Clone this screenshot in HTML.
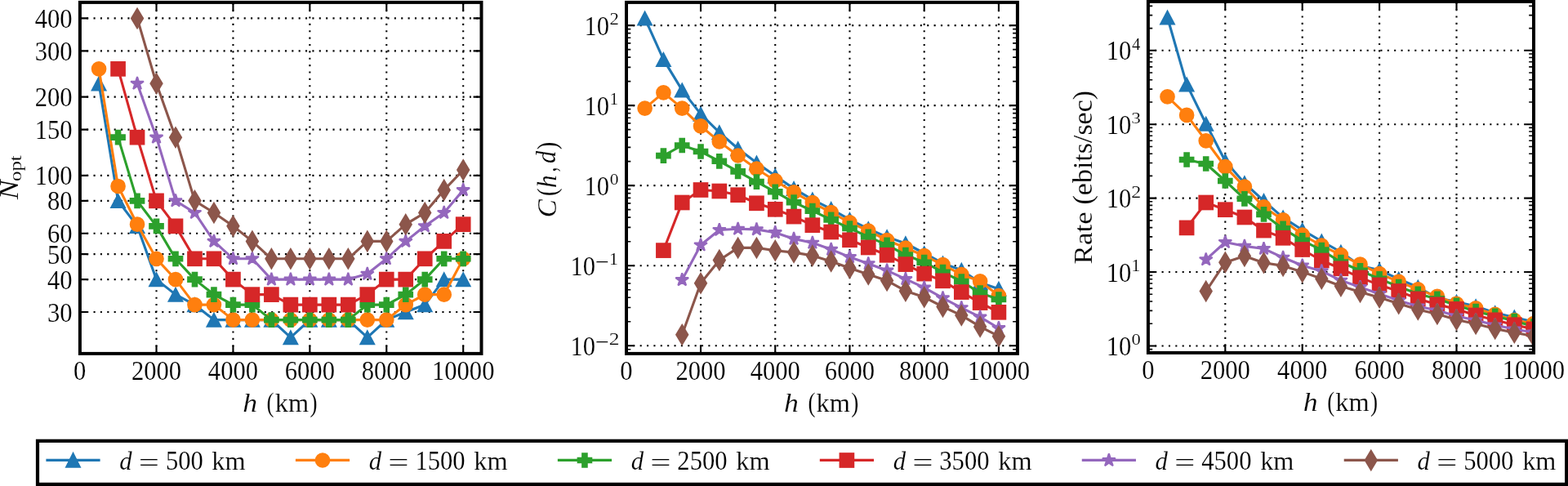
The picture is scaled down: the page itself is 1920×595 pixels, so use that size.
<!DOCTYPE html>
<html lang="en"><head><meta charset="utf-8"><title>Figure</title>
<style>html,body{margin:0;padding:0;background:#fff;overflow:hidden}svg{display:block}</style>
</head><body>
<svg width="1920" height="595" viewBox="0 0 1920 595" font-family='"Liberation Serif", "DejaVu Serif", serif' fill="#000" style="font-kerning:none">
<rect width="1920" height="595" fill="#fff"/>
<defs>
<clipPath id="c1"><rect x="97.9" y="2.9" width="491.6" height="430"/></clipPath>
<clipPath id="c2"><rect x="767" y="2.9" width="478.9" height="430"/></clipPath>
<clipPath id="c3"><rect x="1405.9" y="1.9" width="472.1" height="430"/></clipPath>
</defs>
<path d="M191.52 432.7V2.9M285.44 432.7V2.9M379.36 432.7V2.9M473.28 432.7V2.9M567.2 432.7V2.9M97.8 22.4H589.5M97.8 62.34H589.5M97.8 118.64H589.5M97.8 158.58H589.5M97.8 214.88H589.5M97.8 245.86H589.5M97.8 285.8H589.5M97.8 311.12H589.5M97.8 342.1H589.5M97.8 382.04H589.5" fill="none" stroke="#000" stroke-width="2.1" stroke-dasharray="2.1 6.27"/>
<path d="M97.6 432.9v-9.9M97.6 2.9v9.9M191.52 432.9v-9.9M191.52 2.9v9.9M285.44 432.9v-9.9M285.44 2.9v9.9M379.36 432.9v-9.9M379.36 2.9v9.9M473.28 432.9v-9.9M473.28 2.9v9.9M567.2 432.9v-9.9M567.2 2.9v9.9M97.9 22.4h9.9M589.5 22.4h-9.9M97.9 62.34h9.9M589.5 62.34h-9.9M97.9 118.64h9.9M589.5 118.64h-9.9M97.9 158.58h9.9M589.5 158.58h-9.9M97.9 214.88h9.9M589.5 214.88h-9.9M97.9 245.86h9.9M589.5 245.86h-9.9M97.9 285.8h9.9M589.5 285.8h-9.9M97.9 311.12h9.9M589.5 311.12h-9.9M97.9 342.1h9.9M589.5 342.1h-9.9M97.9 382.04h9.9M589.5 382.04h-9.9" fill="none" stroke="#000" stroke-width="2.1"/>
<g clip-path="url(#c1)">
<path d="M121.08 102.29L144.56 245.86L168.04 276.84L191.52 342.1L215 360.64L238.48 373.08L261.96 391.62L285.44 391.62L308.92 391.62L332.4 391.62L355.88 413.03L379.36 391.62L402.84 391.62L426.32 391.62L449.8 413.03L473.28 391.62L496.76 382.04L520.24 373.08L543.72 342.1L567.2 342.1" fill="none" stroke="#1f77b4" stroke-width="3.12" stroke-linejoin="round" stroke-linecap="square"/>
<polygon points="121.08,94.69 112.78,110.39 129.38,110.39" fill="#1f77b4" stroke="#1f77b4" stroke-width="2.08" stroke-linejoin="miter"/>
<polygon points="144.56,238.26 136.26,253.96 152.86,253.96" fill="#1f77b4" stroke="#1f77b4" stroke-width="2.08" stroke-linejoin="miter"/>
<polygon points="168.04,269.24 159.74,284.94 176.34,284.94" fill="#1f77b4" stroke="#1f77b4" stroke-width="2.08" stroke-linejoin="miter"/>
<polygon points="191.52,334.5 183.22,350.2 199.82,350.2" fill="#1f77b4" stroke="#1f77b4" stroke-width="2.08" stroke-linejoin="miter"/>
<polygon points="215,353.04 206.7,368.74 223.3,368.74" fill="#1f77b4" stroke="#1f77b4" stroke-width="2.08" stroke-linejoin="miter"/>
<polygon points="238.48,365.48 230.18,381.18 246.78,381.18" fill="#1f77b4" stroke="#1f77b4" stroke-width="2.08" stroke-linejoin="miter"/>
<polygon points="261.96,384.02 253.66,399.72 270.26,399.72" fill="#1f77b4" stroke="#1f77b4" stroke-width="2.08" stroke-linejoin="miter"/>
<polygon points="285.44,384.02 277.14,399.72 293.74,399.72" fill="#1f77b4" stroke="#1f77b4" stroke-width="2.08" stroke-linejoin="miter"/>
<polygon points="308.92,384.02 300.62,399.72 317.22,399.72" fill="#1f77b4" stroke="#1f77b4" stroke-width="2.08" stroke-linejoin="miter"/>
<polygon points="332.4,384.02 324.1,399.72 340.7,399.72" fill="#1f77b4" stroke="#1f77b4" stroke-width="2.08" stroke-linejoin="miter"/>
<polygon points="355.88,405.43 347.58,421.13 364.18,421.13" fill="#1f77b4" stroke="#1f77b4" stroke-width="2.08" stroke-linejoin="miter"/>
<polygon points="379.36,384.02 371.06,399.72 387.66,399.72" fill="#1f77b4" stroke="#1f77b4" stroke-width="2.08" stroke-linejoin="miter"/>
<polygon points="402.84,384.02 394.54,399.72 411.14,399.72" fill="#1f77b4" stroke="#1f77b4" stroke-width="2.08" stroke-linejoin="miter"/>
<polygon points="426.32,384.02 418.02,399.72 434.62,399.72" fill="#1f77b4" stroke="#1f77b4" stroke-width="2.08" stroke-linejoin="miter"/>
<polygon points="449.8,405.43 441.5,421.13 458.1,421.13" fill="#1f77b4" stroke="#1f77b4" stroke-width="2.08" stroke-linejoin="miter"/>
<polygon points="473.28,384.02 464.98,399.72 481.58,399.72" fill="#1f77b4" stroke="#1f77b4" stroke-width="2.08" stroke-linejoin="miter"/>
<polygon points="496.76,374.44 488.46,390.14 505.06,390.14" fill="#1f77b4" stroke="#1f77b4" stroke-width="2.08" stroke-linejoin="miter"/>
<polygon points="520.24,365.48 511.94,381.18 528.54,381.18" fill="#1f77b4" stroke="#1f77b4" stroke-width="2.08" stroke-linejoin="miter"/>
<polygon points="543.72,334.5 535.42,350.2 552.02,350.2" fill="#1f77b4" stroke="#1f77b4" stroke-width="2.08" stroke-linejoin="miter"/>
<polygon points="567.2,334.5 558.9,350.2 575.5,350.2" fill="#1f77b4" stroke="#1f77b4" stroke-width="2.08" stroke-linejoin="miter"/>
<path d="M121.08 84.36L144.56 227.97L168.04 274.69L191.52 316.79L215 342.1L238.48 373.08L261.96 373.08L285.44 391.62L308.92 391.62L332.4 391.62L355.88 391.62L379.36 391.62L402.84 391.62L426.32 391.62L449.8 391.62L473.28 391.62L496.76 373.08L520.24 360.64L543.72 360.64L567.2 316.79" fill="none" stroke="#ff7f0e" stroke-width="3.12" stroke-linejoin="round" stroke-linecap="square"/>
<circle cx="121.08" cy="84.36" r="8.3" fill="#ff7f0e" stroke="#ff7f0e" stroke-width="2.08" stroke-linejoin="miter"/>
<circle cx="144.56" cy="227.97" r="8.3" fill="#ff7f0e" stroke="#ff7f0e" stroke-width="2.08" stroke-linejoin="miter"/>
<circle cx="168.04" cy="274.69" r="8.3" fill="#ff7f0e" stroke="#ff7f0e" stroke-width="2.08" stroke-linejoin="miter"/>
<circle cx="191.52" cy="316.79" r="8.3" fill="#ff7f0e" stroke="#ff7f0e" stroke-width="2.08" stroke-linejoin="miter"/>
<circle cx="215" cy="342.1" r="8.3" fill="#ff7f0e" stroke="#ff7f0e" stroke-width="2.08" stroke-linejoin="miter"/>
<circle cx="238.48" cy="373.08" r="8.3" fill="#ff7f0e" stroke="#ff7f0e" stroke-width="2.08" stroke-linejoin="miter"/>
<circle cx="261.96" cy="373.08" r="8.3" fill="#ff7f0e" stroke="#ff7f0e" stroke-width="2.08" stroke-linejoin="miter"/>
<circle cx="285.44" cy="391.62" r="8.3" fill="#ff7f0e" stroke="#ff7f0e" stroke-width="2.08" stroke-linejoin="miter"/>
<circle cx="308.92" cy="391.62" r="8.3" fill="#ff7f0e" stroke="#ff7f0e" stroke-width="2.08" stroke-linejoin="miter"/>
<circle cx="332.4" cy="391.62" r="8.3" fill="#ff7f0e" stroke="#ff7f0e" stroke-width="2.08" stroke-linejoin="miter"/>
<circle cx="355.88" cy="391.62" r="8.3" fill="#ff7f0e" stroke="#ff7f0e" stroke-width="2.08" stroke-linejoin="miter"/>
<circle cx="379.36" cy="391.62" r="8.3" fill="#ff7f0e" stroke="#ff7f0e" stroke-width="2.08" stroke-linejoin="miter"/>
<circle cx="402.84" cy="391.62" r="8.3" fill="#ff7f0e" stroke="#ff7f0e" stroke-width="2.08" stroke-linejoin="miter"/>
<circle cx="426.32" cy="391.62" r="8.3" fill="#ff7f0e" stroke="#ff7f0e" stroke-width="2.08" stroke-linejoin="miter"/>
<circle cx="449.8" cy="391.62" r="8.3" fill="#ff7f0e" stroke="#ff7f0e" stroke-width="2.08" stroke-linejoin="miter"/>
<circle cx="473.28" cy="391.62" r="8.3" fill="#ff7f0e" stroke="#ff7f0e" stroke-width="2.08" stroke-linejoin="miter"/>
<circle cx="496.76" cy="373.08" r="8.3" fill="#ff7f0e" stroke="#ff7f0e" stroke-width="2.08" stroke-linejoin="miter"/>
<circle cx="520.24" cy="360.64" r="8.3" fill="#ff7f0e" stroke="#ff7f0e" stroke-width="2.08" stroke-linejoin="miter"/>
<circle cx="543.72" cy="360.64" r="8.3" fill="#ff7f0e" stroke="#ff7f0e" stroke-width="2.08" stroke-linejoin="miter"/>
<circle cx="567.2" cy="316.79" r="8.3" fill="#ff7f0e" stroke="#ff7f0e" stroke-width="2.08" stroke-linejoin="miter"/>
<path d="M144.56 168.16L168.04 245.86L191.52 276.84L215 316.79L238.48 342.1L261.96 360.64L285.44 373.08L308.92 373.08L332.4 391.62L355.88 391.62L379.36 391.62L402.84 391.62L426.32 391.62L449.8 373.08L473.28 373.08L496.76 360.64L520.24 342.1L543.72 316.79L567.2 316.79" fill="none" stroke="#2ca02c" stroke-width="3.12" stroke-linejoin="round" stroke-linecap="square"/>
<polygon points="141.79,159.86 147.33,159.86 147.33,165.39 152.86,165.39 152.86,170.93 147.33,170.93 147.33,176.46 141.79,176.46 141.79,170.93 136.26,170.93 136.26,165.39 141.79,165.39" fill="#2ca02c" stroke="#2ca02c" stroke-width="2.08" stroke-linejoin="miter"/>
<polygon points="165.27,237.56 170.81,237.56 170.81,243.09 176.34,243.09 176.34,248.63 170.81,248.63 170.81,254.16 165.27,254.16 165.27,248.63 159.74,248.63 159.74,243.09 165.27,243.09" fill="#2ca02c" stroke="#2ca02c" stroke-width="2.08" stroke-linejoin="miter"/>
<polygon points="188.75,268.54 194.29,268.54 194.29,274.08 199.82,274.08 199.82,279.61 194.29,279.61 194.29,285.14 188.75,285.14 188.75,279.61 183.22,279.61 183.22,274.08 188.75,274.08" fill="#2ca02c" stroke="#2ca02c" stroke-width="2.08" stroke-linejoin="miter"/>
<polygon points="212.23,308.49 217.77,308.49 217.77,314.02 223.3,314.02 223.3,319.55 217.77,319.55 217.77,325.09 212.23,325.09 212.23,319.55 206.7,319.55 206.7,314.02 212.23,314.02" fill="#2ca02c" stroke="#2ca02c" stroke-width="2.08" stroke-linejoin="miter"/>
<polygon points="235.71,333.8 241.25,333.8 241.25,339.33 246.78,339.33 246.78,344.87 241.25,344.87 241.25,350.4 235.71,350.4 235.71,344.87 230.18,344.87 230.18,339.33 235.71,339.33" fill="#2ca02c" stroke="#2ca02c" stroke-width="2.08" stroke-linejoin="miter"/>
<polygon points="259.19,352.34 264.73,352.34 264.73,357.87 270.26,357.87 270.26,363.41 264.73,363.41 264.73,368.94 259.19,368.94 259.19,363.41 253.66,363.41 253.66,357.87 259.19,357.87" fill="#2ca02c" stroke="#2ca02c" stroke-width="2.08" stroke-linejoin="miter"/>
<polygon points="282.67,364.78 288.21,364.78 288.21,370.32 293.74,370.32 293.74,375.85 288.21,375.85 288.21,381.38 282.67,381.38 282.67,375.85 277.14,375.85 277.14,370.32 282.67,370.32" fill="#2ca02c" stroke="#2ca02c" stroke-width="2.08" stroke-linejoin="miter"/>
<polygon points="306.15,364.78 311.69,364.78 311.69,370.32 317.22,370.32 317.22,375.85 311.69,375.85 311.69,381.38 306.15,381.38 306.15,375.85 300.62,375.85 300.62,370.32 306.15,370.32" fill="#2ca02c" stroke="#2ca02c" stroke-width="2.08" stroke-linejoin="miter"/>
<polygon points="329.63,383.32 335.17,383.32 335.17,388.86 340.7,388.86 340.7,394.39 335.17,394.39 335.17,399.92 329.63,399.92 329.63,394.39 324.1,394.39 324.1,388.86 329.63,388.86" fill="#2ca02c" stroke="#2ca02c" stroke-width="2.08" stroke-linejoin="miter"/>
<polygon points="353.11,383.32 358.65,383.32 358.65,388.86 364.18,388.86 364.18,394.39 358.65,394.39 358.65,399.92 353.11,399.92 353.11,394.39 347.58,394.39 347.58,388.86 353.11,388.86" fill="#2ca02c" stroke="#2ca02c" stroke-width="2.08" stroke-linejoin="miter"/>
<polygon points="376.59,383.32 382.13,383.32 382.13,388.86 387.66,388.86 387.66,394.39 382.13,394.39 382.13,399.92 376.59,399.92 376.59,394.39 371.06,394.39 371.06,388.86 376.59,388.86" fill="#2ca02c" stroke="#2ca02c" stroke-width="2.08" stroke-linejoin="miter"/>
<polygon points="400.07,383.32 405.61,383.32 405.61,388.86 411.14,388.86 411.14,394.39 405.61,394.39 405.61,399.92 400.07,399.92 400.07,394.39 394.54,394.39 394.54,388.86 400.07,388.86" fill="#2ca02c" stroke="#2ca02c" stroke-width="2.08" stroke-linejoin="miter"/>
<polygon points="423.55,383.32 429.09,383.32 429.09,388.86 434.62,388.86 434.62,394.39 429.09,394.39 429.09,399.92 423.55,399.92 423.55,394.39 418.02,394.39 418.02,388.86 423.55,388.86" fill="#2ca02c" stroke="#2ca02c" stroke-width="2.08" stroke-linejoin="miter"/>
<polygon points="447.03,364.78 452.57,364.78 452.57,370.32 458.1,370.32 458.1,375.85 452.57,375.85 452.57,381.38 447.03,381.38 447.03,375.85 441.5,375.85 441.5,370.32 447.03,370.32" fill="#2ca02c" stroke="#2ca02c" stroke-width="2.08" stroke-linejoin="miter"/>
<polygon points="470.51,364.78 476.05,364.78 476.05,370.32 481.58,370.32 481.58,375.85 476.05,375.85 476.05,381.38 470.51,381.38 470.51,375.85 464.98,375.85 464.98,370.32 470.51,370.32" fill="#2ca02c" stroke="#2ca02c" stroke-width="2.08" stroke-linejoin="miter"/>
<polygon points="493.99,352.34 499.53,352.34 499.53,357.87 505.06,357.87 505.06,363.41 499.53,363.41 499.53,368.94 493.99,368.94 493.99,363.41 488.46,363.41 488.46,357.87 493.99,357.87" fill="#2ca02c" stroke="#2ca02c" stroke-width="2.08" stroke-linejoin="miter"/>
<polygon points="517.47,333.8 523.01,333.8 523.01,339.33 528.54,339.33 528.54,344.87 523.01,344.87 523.01,350.4 517.47,350.4 517.47,344.87 511.94,344.87 511.94,339.33 517.47,339.33" fill="#2ca02c" stroke="#2ca02c" stroke-width="2.08" stroke-linejoin="miter"/>
<polygon points="540.95,308.49 546.49,308.49 546.49,314.02 552.02,314.02 552.02,319.55 546.49,319.55 546.49,325.09 540.95,325.09 540.95,319.55 535.42,319.55 535.42,314.02 540.95,314.02" fill="#2ca02c" stroke="#2ca02c" stroke-width="2.08" stroke-linejoin="miter"/>
<polygon points="564.43,308.49 569.97,308.49 569.97,314.02 575.5,314.02 575.5,319.55 569.97,319.55 569.97,325.09 564.43,325.09 564.43,319.55 558.9,319.55 558.9,314.02 564.43,314.02" fill="#2ca02c" stroke="#2ca02c" stroke-width="2.08" stroke-linejoin="miter"/>
<path d="M144.56 84.36L168.04 168.16L191.52 245.86L215 276.84L238.48 316.79L261.96 316.79L285.44 342.1L308.92 360.64L332.4 360.64L355.88 373.08L379.36 373.08L402.84 373.08L426.32 373.08L449.8 360.64L473.28 342.1L496.76 342.1L520.24 316.79L543.72 295.38L567.2 274.69" fill="none" stroke="#d62728" stroke-width="3.12" stroke-linejoin="round" stroke-linecap="square"/>
<rect x="136.26" y="76.06" width="16.6" height="16.6" fill="#d62728" stroke="#d62728" stroke-width="2.08" stroke-linejoin="miter"/>
<rect x="159.74" y="159.86" width="16.6" height="16.6" fill="#d62728" stroke="#d62728" stroke-width="2.08" stroke-linejoin="miter"/>
<rect x="183.22" y="237.56" width="16.6" height="16.6" fill="#d62728" stroke="#d62728" stroke-width="2.08" stroke-linejoin="miter"/>
<rect x="206.7" y="268.54" width="16.6" height="16.6" fill="#d62728" stroke="#d62728" stroke-width="2.08" stroke-linejoin="miter"/>
<rect x="230.18" y="308.49" width="16.6" height="16.6" fill="#d62728" stroke="#d62728" stroke-width="2.08" stroke-linejoin="miter"/>
<rect x="253.66" y="308.49" width="16.6" height="16.6" fill="#d62728" stroke="#d62728" stroke-width="2.08" stroke-linejoin="miter"/>
<rect x="277.14" y="333.8" width="16.6" height="16.6" fill="#d62728" stroke="#d62728" stroke-width="2.08" stroke-linejoin="miter"/>
<rect x="300.62" y="352.34" width="16.6" height="16.6" fill="#d62728" stroke="#d62728" stroke-width="2.08" stroke-linejoin="miter"/>
<rect x="324.1" y="352.34" width="16.6" height="16.6" fill="#d62728" stroke="#d62728" stroke-width="2.08" stroke-linejoin="miter"/>
<rect x="347.58" y="364.78" width="16.6" height="16.6" fill="#d62728" stroke="#d62728" stroke-width="2.08" stroke-linejoin="miter"/>
<rect x="371.06" y="364.78" width="16.6" height="16.6" fill="#d62728" stroke="#d62728" stroke-width="2.08" stroke-linejoin="miter"/>
<rect x="394.54" y="364.78" width="16.6" height="16.6" fill="#d62728" stroke="#d62728" stroke-width="2.08" stroke-linejoin="miter"/>
<rect x="418.02" y="364.78" width="16.6" height="16.6" fill="#d62728" stroke="#d62728" stroke-width="2.08" stroke-linejoin="miter"/>
<rect x="441.5" y="352.34" width="16.6" height="16.6" fill="#d62728" stroke="#d62728" stroke-width="2.08" stroke-linejoin="miter"/>
<rect x="464.98" y="333.8" width="16.6" height="16.6" fill="#d62728" stroke="#d62728" stroke-width="2.08" stroke-linejoin="miter"/>
<rect x="488.46" y="333.8" width="16.6" height="16.6" fill="#d62728" stroke="#d62728" stroke-width="2.08" stroke-linejoin="miter"/>
<rect x="511.94" y="308.49" width="16.6" height="16.6" fill="#d62728" stroke="#d62728" stroke-width="2.08" stroke-linejoin="miter"/>
<rect x="535.42" y="287.08" width="16.6" height="16.6" fill="#d62728" stroke="#d62728" stroke-width="2.08" stroke-linejoin="miter"/>
<rect x="558.9" y="266.39" width="16.6" height="16.6" fill="#d62728" stroke="#d62728" stroke-width="2.08" stroke-linejoin="miter"/>
<path d="M168.04 102.29L191.52 168.16L215 245.86L238.48 260.49L261.96 295.38L285.44 316.79L308.92 316.79L332.4 342.1L355.88 342.1L379.36 342.1L402.84 342.1L426.32 342.1L449.8 335.33L473.28 316.79L496.76 295.38L520.24 276.84L543.72 260.49L567.2 232.63" fill="none" stroke="#9467bd" stroke-width="3.12" stroke-linejoin="round" stroke-linecap="square"/>
<polygon points="168.04,93.99 169.9,99.72 175.93,99.72 171.06,103.27 172.92,109 168.04,105.46 163.16,109 165.02,103.27 160.15,99.72 166.18,99.72" fill="#9467bd" stroke="#9467bd" stroke-width="2.08" stroke-linejoin="bevel"/>
<polygon points="191.52,159.86 193.38,165.6 199.41,165.6 194.54,169.14 196.4,174.88 191.52,171.33 186.64,174.88 188.5,169.14 183.63,165.6 189.66,165.6" fill="#9467bd" stroke="#9467bd" stroke-width="2.08" stroke-linejoin="bevel"/>
<polygon points="215,237.56 216.86,243.3 222.89,243.3 218.02,246.84 219.88,252.58 215,249.03 210.12,252.58 211.98,246.84 207.11,243.3 213.14,243.3" fill="#9467bd" stroke="#9467bd" stroke-width="2.08" stroke-linejoin="bevel"/>
<polygon points="238.48,252.19 240.34,257.92 246.37,257.92 241.5,261.47 243.36,267.2 238.48,263.66 233.6,267.2 235.46,261.47 230.59,257.92 236.62,257.92" fill="#9467bd" stroke="#9467bd" stroke-width="2.08" stroke-linejoin="bevel"/>
<polygon points="261.96,287.08 263.82,292.82 269.85,292.82 264.98,296.36 266.84,302.1 261.96,298.55 257.08,302.1 258.94,296.36 254.07,292.82 260.1,292.82" fill="#9467bd" stroke="#9467bd" stroke-width="2.08" stroke-linejoin="bevel"/>
<polygon points="285.44,308.49 287.3,314.22 293.33,314.22 288.46,317.77 290.32,323.5 285.44,319.96 280.56,323.5 282.42,317.77 277.55,314.22 283.58,314.22" fill="#9467bd" stroke="#9467bd" stroke-width="2.08" stroke-linejoin="bevel"/>
<polygon points="308.92,308.49 310.78,314.22 316.81,314.22 311.94,317.77 313.8,323.5 308.92,319.96 304.04,323.5 305.9,317.77 301.03,314.22 307.06,314.22" fill="#9467bd" stroke="#9467bd" stroke-width="2.08" stroke-linejoin="bevel"/>
<polygon points="332.4,333.8 334.26,339.54 340.29,339.54 335.42,343.08 337.28,348.81 332.4,345.27 327.52,348.81 329.38,343.08 324.51,339.54 330.54,339.54" fill="#9467bd" stroke="#9467bd" stroke-width="2.08" stroke-linejoin="bevel"/>
<polygon points="355.88,333.8 357.74,339.54 363.77,339.54 358.9,343.08 360.76,348.81 355.88,345.27 351,348.81 352.86,343.08 347.99,339.54 354.02,339.54" fill="#9467bd" stroke="#9467bd" stroke-width="2.08" stroke-linejoin="bevel"/>
<polygon points="379.36,333.8 381.22,339.54 387.25,339.54 382.38,343.08 384.24,348.81 379.36,345.27 374.48,348.81 376.34,343.08 371.47,339.54 377.5,339.54" fill="#9467bd" stroke="#9467bd" stroke-width="2.08" stroke-linejoin="bevel"/>
<polygon points="402.84,333.8 404.7,339.54 410.73,339.54 405.86,343.08 407.72,348.81 402.84,345.27 397.96,348.81 399.82,343.08 394.95,339.54 400.98,339.54" fill="#9467bd" stroke="#9467bd" stroke-width="2.08" stroke-linejoin="bevel"/>
<polygon points="426.32,333.8 428.18,339.54 434.21,339.54 429.34,343.08 431.2,348.81 426.32,345.27 421.44,348.81 423.3,343.08 418.43,339.54 424.46,339.54" fill="#9467bd" stroke="#9467bd" stroke-width="2.08" stroke-linejoin="bevel"/>
<polygon points="449.8,327.03 451.66,332.76 457.69,332.76 452.82,336.31 454.68,342.04 449.8,338.5 444.92,342.04 446.78,336.31 441.91,332.76 447.94,332.76" fill="#9467bd" stroke="#9467bd" stroke-width="2.08" stroke-linejoin="bevel"/>
<polygon points="473.28,308.49 475.14,314.22 481.17,314.22 476.3,317.77 478.16,323.5 473.28,319.96 468.4,323.5 470.26,317.77 465.39,314.22 471.42,314.22" fill="#9467bd" stroke="#9467bd" stroke-width="2.08" stroke-linejoin="bevel"/>
<polygon points="496.76,287.08 498.62,292.82 504.65,292.82 499.78,296.36 501.64,302.1 496.76,298.55 491.88,302.1 493.74,296.36 488.87,292.82 494.9,292.82" fill="#9467bd" stroke="#9467bd" stroke-width="2.08" stroke-linejoin="bevel"/>
<polygon points="520.24,268.54 522.1,274.28 528.13,274.28 523.26,277.82 525.12,283.56 520.24,280.01 515.36,283.56 517.22,277.82 512.35,274.28 518.38,274.28" fill="#9467bd" stroke="#9467bd" stroke-width="2.08" stroke-linejoin="bevel"/>
<polygon points="543.72,252.19 545.58,257.92 551.61,257.92 546.74,261.47 548.6,267.2 543.72,263.66 538.84,267.2 540.7,261.47 535.83,257.92 541.86,257.92" fill="#9467bd" stroke="#9467bd" stroke-width="2.08" stroke-linejoin="bevel"/>
<polygon points="567.2,224.33 569.06,230.06 575.09,230.06 570.22,233.61 572.08,239.34 567.2,235.8 562.32,239.34 564.18,233.61 559.31,230.06 565.34,230.06" fill="#9467bd" stroke="#9467bd" stroke-width="2.08" stroke-linejoin="bevel"/>
<path d="M168.04 22.4L191.52 102.29L215 168.16L238.48 245.86L261.96 260.49L285.44 276.84L308.92 295.38L332.4 316.79L355.88 316.79L379.36 316.79L402.84 316.79L426.32 316.79L449.8 295.38L473.28 295.38L496.76 274.69L520.24 260.49L543.72 232.63L567.2 208.1" fill="none" stroke="#8c564b" stroke-width="3.12" stroke-linejoin="round" stroke-linecap="square"/>
<polygon points="168.04,10.66 175.08,22.4 168.04,34.14 161,22.4" fill="#8c564b" stroke="#8c564b" stroke-width="2.08" stroke-linejoin="miter"/>
<polygon points="191.52,90.55 198.56,102.29 191.52,114.02 184.48,102.29" fill="#8c564b" stroke="#8c564b" stroke-width="2.08" stroke-linejoin="miter"/>
<polygon points="215,156.42 222.04,168.16 215,179.9 207.96,168.16" fill="#8c564b" stroke="#8c564b" stroke-width="2.08" stroke-linejoin="miter"/>
<polygon points="238.48,234.12 245.52,245.86 238.48,257.6 231.44,245.86" fill="#8c564b" stroke="#8c564b" stroke-width="2.08" stroke-linejoin="miter"/>
<polygon points="261.96,248.75 269,260.49 261.96,272.23 254.92,260.49" fill="#8c564b" stroke="#8c564b" stroke-width="2.08" stroke-linejoin="miter"/>
<polygon points="285.44,265.1 292.48,276.84 285.44,288.58 278.4,276.84" fill="#8c564b" stroke="#8c564b" stroke-width="2.08" stroke-linejoin="miter"/>
<polygon points="308.92,283.64 315.96,295.38 308.92,307.12 301.88,295.38" fill="#8c564b" stroke="#8c564b" stroke-width="2.08" stroke-linejoin="miter"/>
<polygon points="332.4,305.05 339.44,316.79 332.4,328.52 325.36,316.79" fill="#8c564b" stroke="#8c564b" stroke-width="2.08" stroke-linejoin="miter"/>
<polygon points="355.88,305.05 362.92,316.79 355.88,328.52 348.84,316.79" fill="#8c564b" stroke="#8c564b" stroke-width="2.08" stroke-linejoin="miter"/>
<polygon points="379.36,305.05 386.4,316.79 379.36,328.52 372.32,316.79" fill="#8c564b" stroke="#8c564b" stroke-width="2.08" stroke-linejoin="miter"/>
<polygon points="402.84,305.05 409.88,316.79 402.84,328.52 395.8,316.79" fill="#8c564b" stroke="#8c564b" stroke-width="2.08" stroke-linejoin="miter"/>
<polygon points="426.32,305.05 433.36,316.79 426.32,328.52 419.28,316.79" fill="#8c564b" stroke="#8c564b" stroke-width="2.08" stroke-linejoin="miter"/>
<polygon points="449.8,283.64 456.84,295.38 449.8,307.12 442.76,295.38" fill="#8c564b" stroke="#8c564b" stroke-width="2.08" stroke-linejoin="miter"/>
<polygon points="473.28,283.64 480.32,295.38 473.28,307.12 466.24,295.38" fill="#8c564b" stroke="#8c564b" stroke-width="2.08" stroke-linejoin="miter"/>
<polygon points="496.76,262.95 503.8,274.69 496.76,286.43 489.72,274.69" fill="#8c564b" stroke="#8c564b" stroke-width="2.08" stroke-linejoin="miter"/>
<polygon points="520.24,248.75 527.28,260.49 520.24,272.23 513.2,260.49" fill="#8c564b" stroke="#8c564b" stroke-width="2.08" stroke-linejoin="miter"/>
<polygon points="543.72,220.89 550.76,232.63 543.72,244.37 536.68,232.63" fill="#8c564b" stroke="#8c564b" stroke-width="2.08" stroke-linejoin="miter"/>
<polygon points="567.2,196.37 574.24,208.1 567.2,219.84 560.16,208.1" fill="#8c564b" stroke="#8c564b" stroke-width="2.08" stroke-linejoin="miter"/>
</g>
<rect x="97.9" y="2.9" width="491.6" height="430" fill="none" stroke="#000" stroke-width="4"/>
<path d="M858.02 432.7V2.9M949.25 432.7V2.9M1040.47 432.7V2.9M1131.7 432.7V2.9M1222.92 432.7V2.9M766.9 31.1H1245.9M766.9 129.13H1245.9M766.9 227.16H1245.9M766.9 325.19H1245.9M766.9 423.22H1245.9" fill="none" stroke="#000" stroke-width="2.1" stroke-dasharray="2.1 6.27"/>
<path d="M766.8 432.9v-9.9M766.8 2.9v9.9M858.02 432.9v-9.9M858.02 2.9v9.9M949.25 432.9v-9.9M949.25 2.9v9.9M1040.47 432.9v-9.9M1040.47 2.9v9.9M1131.7 432.9v-9.9M1131.7 2.9v9.9M1222.92 432.9v-9.9M1222.92 2.9v9.9M767 31.1h9.9M1245.9 31.1h-9.9M767 129.13h9.9M1245.9 129.13h-9.9M767 227.16h9.9M1245.9 227.16h-9.9M767 325.19h9.9M1245.9 325.19h-9.9M767 423.22h9.9M1245.9 423.22h-9.9" fill="none" stroke="#000" stroke-width="2.1"/>
<path d="M767 99.62h5.3M1245.9 99.62h-5.8M767 82.36h5.3M1245.9 82.36h-5.8M767 70.11h5.3M1245.9 70.11h-5.8M767 60.61h5.3M1245.9 60.61h-5.8M767 52.85h5.3M1245.9 52.85h-5.8M767 46.29h5.3M1245.9 46.29h-5.8M767 40.6h5.3M1245.9 40.6h-5.8M767 35.59h5.3M1245.9 35.59h-5.8M767 197.65h5.3M1245.9 197.65h-5.8M767 180.39h5.3M1245.9 180.39h-5.8M767 168.14h5.3M1245.9 168.14h-5.8M767 158.64h5.3M1245.9 158.64h-5.8M767 150.88h5.3M1245.9 150.88h-5.8M767 144.32h5.3M1245.9 144.32h-5.8M767 138.63h5.3M1245.9 138.63h-5.8M767 133.62h5.3M1245.9 133.62h-5.8M767 295.68h5.3M1245.9 295.68h-5.8M767 278.42h5.3M1245.9 278.42h-5.8M767 266.17h5.3M1245.9 266.17h-5.8M767 256.67h5.3M1245.9 256.67h-5.8M767 248.91h5.3M1245.9 248.91h-5.8M767 242.35h5.3M1245.9 242.35h-5.8M767 236.66h5.3M1245.9 236.66h-5.8M767 231.65h5.3M1245.9 231.65h-5.8M767 393.71h5.3M1245.9 393.71h-5.8M767 376.45h5.3M1245.9 376.45h-5.8M767 364.2h5.3M1245.9 364.2h-5.8M767 354.7h5.3M1245.9 354.7h-5.8M767 346.94h5.3M1245.9 346.94h-5.8M767 340.38h5.3M1245.9 340.38h-5.8M767 334.69h5.3M1245.9 334.69h-5.8M767 329.68h5.3M1245.9 329.68h-5.8M767 427.71h5.3M1245.9 427.71h-5.8" fill="none" stroke="#000" stroke-width="1.6"/>
<g clip-path="url(#c2)">
<path d="M789.61 22.4L812.41 72.9L835.22 110.4L858.02 139.6L880.83 162.1L903.64 182L926.44 199.3L949.25 215.3L972.05 230.9L994.86 244.3L1017.67 255.8L1040.47 268.8L1063.28 280.1L1086.08 290.1L1108.89 298L1131.7 310L1154.5 322.4L1177.31 330.7L1200.11 346L1222.92 353.7" fill="none" stroke="#1f77b4" stroke-width="3.12" stroke-linejoin="round" stroke-linecap="square"/>
<polygon points="789.61,14.8 781.31,30.5 797.91,30.5" fill="#1f77b4" stroke="#1f77b4" stroke-width="2.08" stroke-linejoin="miter"/>
<polygon points="812.41,65.3 804.11,81 820.71,81" fill="#1f77b4" stroke="#1f77b4" stroke-width="2.08" stroke-linejoin="miter"/>
<polygon points="835.22,102.8 826.92,118.5 843.52,118.5" fill="#1f77b4" stroke="#1f77b4" stroke-width="2.08" stroke-linejoin="miter"/>
<polygon points="858.02,132 849.72,147.7 866.32,147.7" fill="#1f77b4" stroke="#1f77b4" stroke-width="2.08" stroke-linejoin="miter"/>
<polygon points="880.83,154.5 872.53,170.2 889.13,170.2" fill="#1f77b4" stroke="#1f77b4" stroke-width="2.08" stroke-linejoin="miter"/>
<polygon points="903.64,174.4 895.34,190.1 911.94,190.1" fill="#1f77b4" stroke="#1f77b4" stroke-width="2.08" stroke-linejoin="miter"/>
<polygon points="926.44,191.7 918.14,207.4 934.74,207.4" fill="#1f77b4" stroke="#1f77b4" stroke-width="2.08" stroke-linejoin="miter"/>
<polygon points="949.25,207.7 940.95,223.4 957.55,223.4" fill="#1f77b4" stroke="#1f77b4" stroke-width="2.08" stroke-linejoin="miter"/>
<polygon points="972.05,223.3 963.75,239 980.35,239" fill="#1f77b4" stroke="#1f77b4" stroke-width="2.08" stroke-linejoin="miter"/>
<polygon points="994.86,236.7 986.56,252.4 1003.16,252.4" fill="#1f77b4" stroke="#1f77b4" stroke-width="2.08" stroke-linejoin="miter"/>
<polygon points="1017.67,248.2 1009.37,263.9 1025.97,263.9" fill="#1f77b4" stroke="#1f77b4" stroke-width="2.08" stroke-linejoin="miter"/>
<polygon points="1040.47,261.2 1032.17,276.9 1048.77,276.9" fill="#1f77b4" stroke="#1f77b4" stroke-width="2.08" stroke-linejoin="miter"/>
<polygon points="1063.28,272.5 1054.98,288.2 1071.58,288.2" fill="#1f77b4" stroke="#1f77b4" stroke-width="2.08" stroke-linejoin="miter"/>
<polygon points="1086.08,282.5 1077.78,298.2 1094.38,298.2" fill="#1f77b4" stroke="#1f77b4" stroke-width="2.08" stroke-linejoin="miter"/>
<polygon points="1108.89,290.4 1100.59,306.1 1117.19,306.1" fill="#1f77b4" stroke="#1f77b4" stroke-width="2.08" stroke-linejoin="miter"/>
<polygon points="1131.7,302.4 1123.4,318.1 1140,318.1" fill="#1f77b4" stroke="#1f77b4" stroke-width="2.08" stroke-linejoin="miter"/>
<polygon points="1154.5,314.8 1146.2,330.5 1162.8,330.5" fill="#1f77b4" stroke="#1f77b4" stroke-width="2.08" stroke-linejoin="miter"/>
<polygon points="1177.31,323.1 1169.01,338.8 1185.61,338.8" fill="#1f77b4" stroke="#1f77b4" stroke-width="2.08" stroke-linejoin="miter"/>
<polygon points="1200.11,338.4 1191.81,354.1 1208.41,354.1" fill="#1f77b4" stroke="#1f77b4" stroke-width="2.08" stroke-linejoin="miter"/>
<polygon points="1222.92,346.1 1214.62,361.8 1231.22,361.8" fill="#1f77b4" stroke="#1f77b4" stroke-width="2.08" stroke-linejoin="miter"/>
<path d="M789.61 132.6L812.41 113.4L835.22 132.6L858.02 154.3L880.83 173.4L903.64 190.5L926.44 206.7L949.25 221.2L972.05 235.4L994.86 248.1L1017.67 260.2L1040.47 272.3L1063.28 282.5L1086.08 294L1108.89 303.5L1131.7 313L1154.5 324.2L1177.31 336.2L1200.11 344.3L1222.92 362" fill="none" stroke="#ff7f0e" stroke-width="3.12" stroke-linejoin="round" stroke-linecap="square"/>
<circle cx="789.61" cy="132.6" r="8.3" fill="#ff7f0e" stroke="#ff7f0e" stroke-width="2.08" stroke-linejoin="miter"/>
<circle cx="812.41" cy="113.4" r="8.3" fill="#ff7f0e" stroke="#ff7f0e" stroke-width="2.08" stroke-linejoin="miter"/>
<circle cx="835.22" cy="132.6" r="8.3" fill="#ff7f0e" stroke="#ff7f0e" stroke-width="2.08" stroke-linejoin="miter"/>
<circle cx="858.02" cy="154.3" r="8.3" fill="#ff7f0e" stroke="#ff7f0e" stroke-width="2.08" stroke-linejoin="miter"/>
<circle cx="880.83" cy="173.4" r="8.3" fill="#ff7f0e" stroke="#ff7f0e" stroke-width="2.08" stroke-linejoin="miter"/>
<circle cx="903.64" cy="190.5" r="8.3" fill="#ff7f0e" stroke="#ff7f0e" stroke-width="2.08" stroke-linejoin="miter"/>
<circle cx="926.44" cy="206.7" r="8.3" fill="#ff7f0e" stroke="#ff7f0e" stroke-width="2.08" stroke-linejoin="miter"/>
<circle cx="949.25" cy="221.2" r="8.3" fill="#ff7f0e" stroke="#ff7f0e" stroke-width="2.08" stroke-linejoin="miter"/>
<circle cx="972.05" cy="235.4" r="8.3" fill="#ff7f0e" stroke="#ff7f0e" stroke-width="2.08" stroke-linejoin="miter"/>
<circle cx="994.86" cy="248.1" r="8.3" fill="#ff7f0e" stroke="#ff7f0e" stroke-width="2.08" stroke-linejoin="miter"/>
<circle cx="1017.67" cy="260.2" r="8.3" fill="#ff7f0e" stroke="#ff7f0e" stroke-width="2.08" stroke-linejoin="miter"/>
<circle cx="1040.47" cy="272.3" r="8.3" fill="#ff7f0e" stroke="#ff7f0e" stroke-width="2.08" stroke-linejoin="miter"/>
<circle cx="1063.28" cy="282.5" r="8.3" fill="#ff7f0e" stroke="#ff7f0e" stroke-width="2.08" stroke-linejoin="miter"/>
<circle cx="1086.08" cy="294" r="8.3" fill="#ff7f0e" stroke="#ff7f0e" stroke-width="2.08" stroke-linejoin="miter"/>
<circle cx="1108.89" cy="303.5" r="8.3" fill="#ff7f0e" stroke="#ff7f0e" stroke-width="2.08" stroke-linejoin="miter"/>
<circle cx="1131.7" cy="313" r="8.3" fill="#ff7f0e" stroke="#ff7f0e" stroke-width="2.08" stroke-linejoin="miter"/>
<circle cx="1154.5" cy="324.2" r="8.3" fill="#ff7f0e" stroke="#ff7f0e" stroke-width="2.08" stroke-linejoin="miter"/>
<circle cx="1177.31" cy="336.2" r="8.3" fill="#ff7f0e" stroke="#ff7f0e" stroke-width="2.08" stroke-linejoin="miter"/>
<circle cx="1200.11" cy="344.3" r="8.3" fill="#ff7f0e" stroke="#ff7f0e" stroke-width="2.08" stroke-linejoin="miter"/>
<circle cx="1222.92" cy="362" r="8.3" fill="#ff7f0e" stroke="#ff7f0e" stroke-width="2.08" stroke-linejoin="miter"/>
<path d="M812.41 190.6L835.22 178L858.02 185.5L880.83 197.3L903.64 209.9L926.44 222.6L949.25 234.8L972.05 247.7L994.86 258.1L1017.67 268.9L1040.47 279.5L1063.28 289.9L1086.08 299.9L1108.89 312L1131.7 321.2L1154.5 333.2L1177.31 344.5L1200.11 358.6L1222.92 366.5" fill="none" stroke="#2ca02c" stroke-width="3.12" stroke-linejoin="round" stroke-linecap="square"/>
<polygon points="809.65,182.3 815.18,182.3 815.18,187.83 820.71,187.83 820.71,193.37 815.18,193.37 815.18,198.9 809.65,198.9 809.65,193.37 804.11,193.37 804.11,187.83 809.65,187.83" fill="#2ca02c" stroke="#2ca02c" stroke-width="2.08" stroke-linejoin="miter"/>
<polygon points="832.45,169.7 837.98,169.7 837.98,175.23 843.52,175.23 843.52,180.77 837.98,180.77 837.98,186.3 832.45,186.3 832.45,180.77 826.92,180.77 826.92,175.23 832.45,175.23" fill="#2ca02c" stroke="#2ca02c" stroke-width="2.08" stroke-linejoin="miter"/>
<polygon points="855.26,177.2 860.79,177.2 860.79,182.73 866.32,182.73 866.32,188.27 860.79,188.27 860.79,193.8 855.26,193.8 855.26,188.27 849.72,188.27 849.72,182.73 855.26,182.73" fill="#2ca02c" stroke="#2ca02c" stroke-width="2.08" stroke-linejoin="miter"/>
<polygon points="878.06,189 883.6,189 883.6,194.53 889.13,194.53 889.13,200.07 883.6,200.07 883.6,205.6 878.06,205.6 878.06,200.07 872.53,200.07 872.53,194.53 878.06,194.53" fill="#2ca02c" stroke="#2ca02c" stroke-width="2.08" stroke-linejoin="miter"/>
<polygon points="900.87,201.6 906.4,201.6 906.4,207.13 911.94,207.13 911.94,212.67 906.4,212.67 906.4,218.2 900.87,218.2 900.87,212.67 895.34,212.67 895.34,207.13 900.87,207.13" fill="#2ca02c" stroke="#2ca02c" stroke-width="2.08" stroke-linejoin="miter"/>
<polygon points="923.68,214.3 929.21,214.3 929.21,219.83 934.74,219.83 934.74,225.37 929.21,225.37 929.21,230.9 923.68,230.9 923.68,225.37 918.14,225.37 918.14,219.83 923.68,219.83" fill="#2ca02c" stroke="#2ca02c" stroke-width="2.08" stroke-linejoin="miter"/>
<polygon points="946.48,226.5 952.01,226.5 952.01,232.03 957.55,232.03 957.55,237.57 952.01,237.57 952.01,243.1 946.48,243.1 946.48,237.57 940.95,237.57 940.95,232.03 946.48,232.03" fill="#2ca02c" stroke="#2ca02c" stroke-width="2.08" stroke-linejoin="miter"/>
<polygon points="969.29,239.4 974.82,239.4 974.82,244.93 980.35,244.93 980.35,250.47 974.82,250.47 974.82,256 969.29,256 969.29,250.47 963.75,250.47 963.75,244.93 969.29,244.93" fill="#2ca02c" stroke="#2ca02c" stroke-width="2.08" stroke-linejoin="miter"/>
<polygon points="992.09,249.8 997.63,249.8 997.63,255.33 1003.16,255.33 1003.16,260.87 997.63,260.87 997.63,266.4 992.09,266.4 992.09,260.87 986.56,260.87 986.56,255.33 992.09,255.33" fill="#2ca02c" stroke="#2ca02c" stroke-width="2.08" stroke-linejoin="miter"/>
<polygon points="1014.9,260.6 1020.43,260.6 1020.43,266.13 1025.97,266.13 1025.97,271.67 1020.43,271.67 1020.43,277.2 1014.9,277.2 1014.9,271.67 1009.37,271.67 1009.37,266.13 1014.9,266.13" fill="#2ca02c" stroke="#2ca02c" stroke-width="2.08" stroke-linejoin="miter"/>
<polygon points="1037.71,271.2 1043.24,271.2 1043.24,276.73 1048.77,276.73 1048.77,282.27 1043.24,282.27 1043.24,287.8 1037.71,287.8 1037.71,282.27 1032.17,282.27 1032.17,276.73 1037.71,276.73" fill="#2ca02c" stroke="#2ca02c" stroke-width="2.08" stroke-linejoin="miter"/>
<polygon points="1060.51,281.6 1066.04,281.6 1066.04,287.13 1071.58,287.13 1071.58,292.67 1066.04,292.67 1066.04,298.2 1060.51,298.2 1060.51,292.67 1054.98,292.67 1054.98,287.13 1060.51,287.13" fill="#2ca02c" stroke="#2ca02c" stroke-width="2.08" stroke-linejoin="miter"/>
<polygon points="1083.32,291.6 1088.85,291.6 1088.85,297.13 1094.38,297.13 1094.38,302.67 1088.85,302.67 1088.85,308.2 1083.32,308.2 1083.32,302.67 1077.78,302.67 1077.78,297.13 1083.32,297.13" fill="#2ca02c" stroke="#2ca02c" stroke-width="2.08" stroke-linejoin="miter"/>
<polygon points="1106.12,303.7 1111.66,303.7 1111.66,309.23 1117.19,309.23 1117.19,314.77 1111.66,314.77 1111.66,320.3 1106.12,320.3 1106.12,314.77 1100.59,314.77 1100.59,309.23 1106.12,309.23" fill="#2ca02c" stroke="#2ca02c" stroke-width="2.08" stroke-linejoin="miter"/>
<polygon points="1128.93,312.9 1134.46,312.9 1134.46,318.43 1140,318.43 1140,323.97 1134.46,323.97 1134.46,329.5 1128.93,329.5 1128.93,323.97 1123.4,323.97 1123.4,318.43 1128.93,318.43" fill="#2ca02c" stroke="#2ca02c" stroke-width="2.08" stroke-linejoin="miter"/>
<polygon points="1151.74,324.9 1157.27,324.9 1157.27,330.43 1162.8,330.43 1162.8,335.97 1157.27,335.97 1157.27,341.5 1151.74,341.5 1151.74,335.97 1146.2,335.97 1146.2,330.43 1151.74,330.43" fill="#2ca02c" stroke="#2ca02c" stroke-width="2.08" stroke-linejoin="miter"/>
<polygon points="1174.54,336.2 1180.07,336.2 1180.07,341.73 1185.61,341.73 1185.61,347.27 1180.07,347.27 1180.07,352.8 1174.54,352.8 1174.54,347.27 1169.01,347.27 1169.01,341.73 1174.54,341.73" fill="#2ca02c" stroke="#2ca02c" stroke-width="2.08" stroke-linejoin="miter"/>
<polygon points="1197.35,350.3 1202.88,350.3 1202.88,355.83 1208.41,355.83 1208.41,361.37 1202.88,361.37 1202.88,366.9 1197.35,366.9 1197.35,361.37 1191.81,361.37 1191.81,355.83 1197.35,355.83" fill="#2ca02c" stroke="#2ca02c" stroke-width="2.08" stroke-linejoin="miter"/>
<polygon points="1220.15,358.2 1225.69,358.2 1225.69,363.73 1231.22,363.73 1231.22,369.27 1225.69,369.27 1225.69,374.8 1220.15,374.8 1220.15,369.27 1214.62,369.27 1214.62,363.73 1220.15,363.73" fill="#2ca02c" stroke="#2ca02c" stroke-width="2.08" stroke-linejoin="miter"/>
<path d="M812.41 306.6L835.22 248L858.02 232.5L880.83 234L903.64 238.7L926.44 248.8L949.25 256.3L972.05 265.1L994.86 275.7L1017.67 284L1040.47 293.8L1063.28 303L1086.08 312.3L1108.89 323.6L1131.7 335.1L1154.5 343.8L1177.31 357.6L1200.11 370.6L1222.92 382.3" fill="none" stroke="#d62728" stroke-width="3.12" stroke-linejoin="round" stroke-linecap="square"/>
<rect x="804.11" y="298.3" width="16.6" height="16.6" fill="#d62728" stroke="#d62728" stroke-width="2.08" stroke-linejoin="miter"/>
<rect x="826.92" y="239.7" width="16.6" height="16.6" fill="#d62728" stroke="#d62728" stroke-width="2.08" stroke-linejoin="miter"/>
<rect x="849.72" y="224.2" width="16.6" height="16.6" fill="#d62728" stroke="#d62728" stroke-width="2.08" stroke-linejoin="miter"/>
<rect x="872.53" y="225.7" width="16.6" height="16.6" fill="#d62728" stroke="#d62728" stroke-width="2.08" stroke-linejoin="miter"/>
<rect x="895.34" y="230.4" width="16.6" height="16.6" fill="#d62728" stroke="#d62728" stroke-width="2.08" stroke-linejoin="miter"/>
<rect x="918.14" y="240.5" width="16.6" height="16.6" fill="#d62728" stroke="#d62728" stroke-width="2.08" stroke-linejoin="miter"/>
<rect x="940.95" y="248" width="16.6" height="16.6" fill="#d62728" stroke="#d62728" stroke-width="2.08" stroke-linejoin="miter"/>
<rect x="963.75" y="256.8" width="16.6" height="16.6" fill="#d62728" stroke="#d62728" stroke-width="2.08" stroke-linejoin="miter"/>
<rect x="986.56" y="267.4" width="16.6" height="16.6" fill="#d62728" stroke="#d62728" stroke-width="2.08" stroke-linejoin="miter"/>
<rect x="1009.37" y="275.7" width="16.6" height="16.6" fill="#d62728" stroke="#d62728" stroke-width="2.08" stroke-linejoin="miter"/>
<rect x="1032.17" y="285.5" width="16.6" height="16.6" fill="#d62728" stroke="#d62728" stroke-width="2.08" stroke-linejoin="miter"/>
<rect x="1054.98" y="294.7" width="16.6" height="16.6" fill="#d62728" stroke="#d62728" stroke-width="2.08" stroke-linejoin="miter"/>
<rect x="1077.78" y="304" width="16.6" height="16.6" fill="#d62728" stroke="#d62728" stroke-width="2.08" stroke-linejoin="miter"/>
<rect x="1100.59" y="315.3" width="16.6" height="16.6" fill="#d62728" stroke="#d62728" stroke-width="2.08" stroke-linejoin="miter"/>
<rect x="1123.4" y="326.8" width="16.6" height="16.6" fill="#d62728" stroke="#d62728" stroke-width="2.08" stroke-linejoin="miter"/>
<rect x="1146.2" y="335.5" width="16.6" height="16.6" fill="#d62728" stroke="#d62728" stroke-width="2.08" stroke-linejoin="miter"/>
<rect x="1169.01" y="349.3" width="16.6" height="16.6" fill="#d62728" stroke="#d62728" stroke-width="2.08" stroke-linejoin="miter"/>
<rect x="1191.81" y="362.3" width="16.6" height="16.6" fill="#d62728" stroke="#d62728" stroke-width="2.08" stroke-linejoin="miter"/>
<rect x="1214.62" y="374" width="16.6" height="16.6" fill="#d62728" stroke="#d62728" stroke-width="2.08" stroke-linejoin="miter"/>
<path d="M835.22 342.7L858.02 300L880.83 281.5L903.64 280.3L926.44 280.9L949.25 284.7L972.05 292.4L994.86 297.3L1017.67 305.4L1040.47 314.7L1063.28 322.8L1086.08 331.2L1108.89 341.7L1131.7 352.2L1154.5 364.9L1177.31 376.8L1200.11 388.1L1222.92 401.7" fill="none" stroke="#9467bd" stroke-width="3.12" stroke-linejoin="round" stroke-linecap="square"/>
<polygon points="835.22,334.4 837.08,340.14 843.11,340.14 838.23,343.68 840.1,349.41 835.22,345.87 830.34,349.41 832.2,343.68 827.32,340.14 833.35,340.14" fill="#9467bd" stroke="#9467bd" stroke-width="2.08" stroke-linejoin="bevel"/>
<polygon points="858.02,291.7 859.89,297.44 865.92,297.44 861.04,300.98 862.9,306.71 858.02,303.17 853.15,306.71 855.01,300.98 850.13,297.44 856.16,297.44" fill="#9467bd" stroke="#9467bd" stroke-width="2.08" stroke-linejoin="bevel"/>
<polygon points="880.83,273.2 882.69,278.94 888.72,278.94 883.85,282.48 885.71,288.21 880.83,284.67 875.95,288.21 877.81,282.48 872.94,278.94 878.97,278.94" fill="#9467bd" stroke="#9467bd" stroke-width="2.08" stroke-linejoin="bevel"/>
<polygon points="903.64,272 905.5,277.74 911.53,277.74 906.65,281.28 908.51,287.01 903.64,283.47 898.76,287.01 900.62,281.28 895.74,277.74 901.77,277.74" fill="#9467bd" stroke="#9467bd" stroke-width="2.08" stroke-linejoin="bevel"/>
<polygon points="926.44,272.6 928.31,278.34 934.34,278.34 929.46,281.88 931.32,287.61 926.44,284.07 921.56,287.61 923.43,281.88 918.55,278.34 924.58,278.34" fill="#9467bd" stroke="#9467bd" stroke-width="2.08" stroke-linejoin="bevel"/>
<polygon points="949.25,276.4 951.11,282.14 957.14,282.14 952.26,285.68 954.13,291.41 949.25,287.87 944.37,291.41 946.23,285.68 941.35,282.14 947.38,282.14" fill="#9467bd" stroke="#9467bd" stroke-width="2.08" stroke-linejoin="bevel"/>
<polygon points="972.05,284.1 973.92,289.84 979.95,289.84 975.07,293.38 976.93,299.11 972.05,295.57 967.18,299.11 969.04,293.38 964.16,289.84 970.19,289.84" fill="#9467bd" stroke="#9467bd" stroke-width="2.08" stroke-linejoin="bevel"/>
<polygon points="994.86,289 996.72,294.74 1002.75,294.74 997.88,298.28 999.74,304.01 994.86,300.47 989.98,304.01 991.84,298.28 986.97,294.74 993,294.74" fill="#9467bd" stroke="#9467bd" stroke-width="2.08" stroke-linejoin="bevel"/>
<polygon points="1017.67,297.1 1019.53,302.84 1025.56,302.84 1020.68,306.38 1022.54,312.11 1017.67,308.57 1012.79,312.11 1014.65,306.38 1009.77,302.84 1015.8,302.84" fill="#9467bd" stroke="#9467bd" stroke-width="2.08" stroke-linejoin="bevel"/>
<polygon points="1040.47,306.4 1042.34,312.14 1048.37,312.14 1043.49,315.68 1045.35,321.41 1040.47,317.87 1035.59,321.41 1037.46,315.68 1032.58,312.14 1038.61,312.14" fill="#9467bd" stroke="#9467bd" stroke-width="2.08" stroke-linejoin="bevel"/>
<polygon points="1063.28,314.5 1065.14,320.24 1071.17,320.24 1066.29,323.78 1068.16,329.51 1063.28,325.97 1058.4,329.51 1060.26,323.78 1055.38,320.24 1061.41,320.24" fill="#9467bd" stroke="#9467bd" stroke-width="2.08" stroke-linejoin="bevel"/>
<polygon points="1086.08,322.9 1087.95,328.64 1093.98,328.64 1089.1,332.18 1090.96,337.91 1086.08,334.37 1081.21,337.91 1083.07,332.18 1078.19,328.64 1084.22,328.64" fill="#9467bd" stroke="#9467bd" stroke-width="2.08" stroke-linejoin="bevel"/>
<polygon points="1108.89,333.4 1110.75,339.14 1116.78,339.14 1111.91,342.68 1113.77,348.41 1108.89,344.87 1104.01,348.41 1105.87,342.68 1101,339.14 1107.03,339.14" fill="#9467bd" stroke="#9467bd" stroke-width="2.08" stroke-linejoin="bevel"/>
<polygon points="1131.7,343.9 1133.56,349.64 1139.59,349.64 1134.71,353.18 1136.57,358.91 1131.7,355.37 1126.82,358.91 1128.68,353.18 1123.8,349.64 1129.83,349.64" fill="#9467bd" stroke="#9467bd" stroke-width="2.08" stroke-linejoin="bevel"/>
<polygon points="1154.5,356.6 1156.37,362.34 1162.4,362.34 1157.52,365.88 1159.38,371.61 1154.5,368.07 1149.62,371.61 1151.49,365.88 1146.61,362.34 1152.64,362.34" fill="#9467bd" stroke="#9467bd" stroke-width="2.08" stroke-linejoin="bevel"/>
<polygon points="1177.31,368.5 1179.17,374.24 1185.2,374.24 1180.32,377.78 1182.19,383.51 1177.31,379.97 1172.43,383.51 1174.29,377.78 1169.41,374.24 1175.44,374.24" fill="#9467bd" stroke="#9467bd" stroke-width="2.08" stroke-linejoin="bevel"/>
<polygon points="1200.11,379.8 1201.98,385.54 1208.01,385.54 1203.13,389.08 1204.99,394.81 1200.11,391.27 1195.24,394.81 1197.1,389.08 1192.22,385.54 1198.25,385.54" fill="#9467bd" stroke="#9467bd" stroke-width="2.08" stroke-linejoin="bevel"/>
<polygon points="1222.92,393.4 1224.78,399.14 1230.81,399.14 1225.94,402.68 1227.8,408.41 1222.92,404.87 1218.04,408.41 1219.9,402.68 1215.03,399.14 1221.06,399.14" fill="#9467bd" stroke="#9467bd" stroke-width="2.08" stroke-linejoin="bevel"/>
<path d="M835.22 409.7L858.02 346.7L880.83 318.5L903.64 303.4L926.44 303.4L949.25 306.7L972.05 309.1L994.86 312.9L1017.67 320L1040.47 328.3L1063.28 336L1086.08 343.6L1108.89 356.2L1131.7 363.8L1154.5 375.5L1177.31 386.1L1200.11 399.9L1222.92 411.7" fill="none" stroke="#8c564b" stroke-width="3.12" stroke-linejoin="round" stroke-linecap="square"/>
<polygon points="835.22,397.96 842.26,409.7 835.22,421.44 828.18,409.7" fill="#8c564b" stroke="#8c564b" stroke-width="2.08" stroke-linejoin="miter"/>
<polygon points="858.02,334.96 865.07,346.7 858.02,358.44 850.98,346.7" fill="#8c564b" stroke="#8c564b" stroke-width="2.08" stroke-linejoin="miter"/>
<polygon points="880.83,306.76 887.87,318.5 880.83,330.24 873.79,318.5" fill="#8c564b" stroke="#8c564b" stroke-width="2.08" stroke-linejoin="miter"/>
<polygon points="903.64,291.66 910.68,303.4 903.64,315.14 896.59,303.4" fill="#8c564b" stroke="#8c564b" stroke-width="2.08" stroke-linejoin="miter"/>
<polygon points="926.44,291.66 933.48,303.4 926.44,315.14 919.4,303.4" fill="#8c564b" stroke="#8c564b" stroke-width="2.08" stroke-linejoin="miter"/>
<polygon points="949.25,294.96 956.29,306.7 949.25,318.44 942.21,306.7" fill="#8c564b" stroke="#8c564b" stroke-width="2.08" stroke-linejoin="miter"/>
<polygon points="972.05,297.36 979.1,309.1 972.05,320.84 965.01,309.1" fill="#8c564b" stroke="#8c564b" stroke-width="2.08" stroke-linejoin="miter"/>
<polygon points="994.86,301.16 1001.9,312.9 994.86,324.64 987.82,312.9" fill="#8c564b" stroke="#8c564b" stroke-width="2.08" stroke-linejoin="miter"/>
<polygon points="1017.67,308.26 1024.71,320 1017.67,331.74 1010.62,320" fill="#8c564b" stroke="#8c564b" stroke-width="2.08" stroke-linejoin="miter"/>
<polygon points="1040.47,316.56 1047.51,328.3 1040.47,340.04 1033.43,328.3" fill="#8c564b" stroke="#8c564b" stroke-width="2.08" stroke-linejoin="miter"/>
<polygon points="1063.28,324.26 1070.32,336 1063.28,347.74 1056.24,336" fill="#8c564b" stroke="#8c564b" stroke-width="2.08" stroke-linejoin="miter"/>
<polygon points="1086.08,331.86 1093.13,343.6 1086.08,355.34 1079.04,343.6" fill="#8c564b" stroke="#8c564b" stroke-width="2.08" stroke-linejoin="miter"/>
<polygon points="1108.89,344.46 1115.93,356.2 1108.89,367.94 1101.85,356.2" fill="#8c564b" stroke="#8c564b" stroke-width="2.08" stroke-linejoin="miter"/>
<polygon points="1131.7,352.06 1138.74,363.8 1131.7,375.54 1124.65,363.8" fill="#8c564b" stroke="#8c564b" stroke-width="2.08" stroke-linejoin="miter"/>
<polygon points="1154.5,363.76 1161.54,375.5 1154.5,387.24 1147.46,375.5" fill="#8c564b" stroke="#8c564b" stroke-width="2.08" stroke-linejoin="miter"/>
<polygon points="1177.31,374.36 1184.35,386.1 1177.31,397.84 1170.27,386.1" fill="#8c564b" stroke="#8c564b" stroke-width="2.08" stroke-linejoin="miter"/>
<polygon points="1200.11,388.16 1207.16,399.9 1200.11,411.64 1193.07,399.9" fill="#8c564b" stroke="#8c564b" stroke-width="2.08" stroke-linejoin="miter"/>
<polygon points="1222.92,399.96 1229.96,411.7 1222.92,423.44 1215.88,411.7" fill="#8c564b" stroke="#8c564b" stroke-width="2.08" stroke-linejoin="miter"/>
</g>
<rect x="767" y="2.9" width="478.9" height="430" fill="none" stroke="#000" stroke-width="4"/>
<path d="M1500.3 431.7V1.9M1594.7 431.7V1.9M1689.1 431.7V1.9M1783.5 431.7V1.9M1405.8 61.8H1878M1405.8 152.22H1878M1405.8 242.64H1878M1405.8 333.06H1878M1405.8 423.48H1878" fill="none" stroke="#000" stroke-width="2.1" stroke-dasharray="2.1 6.27"/>
<path d="M1405.9 431.9v-9.9M1405.9 1.9v9.9M1500.3 431.9v-9.9M1500.3 1.9v9.9M1594.7 431.9v-9.9M1594.7 1.9v9.9M1689.1 431.9v-9.9M1689.1 1.9v9.9M1783.5 431.9v-9.9M1783.5 1.9v9.9M1405.9 61.8h9.9M1878 61.8h-9.9M1405.9 152.22h9.9M1878 152.22h-9.9M1405.9 242.64h9.9M1878 242.64h-9.9M1405.9 333.06h9.9M1878 333.06h-9.9M1405.9 423.48h9.9M1878 423.48h-9.9" fill="none" stroke="#000" stroke-width="2.1"/>
<path d="M1405.9 34.58h5.3M1878 34.58h-5.8M1405.9 18.66h5.3M1878 18.66h-5.8M1405.9 7.36h5.3M1878 7.36h-5.8M1405.9 125h5.3M1878 125h-5.8M1405.9 109.08h5.3M1878 109.08h-5.8M1405.9 97.78h5.3M1878 97.78h-5.8M1405.9 89.02h5.3M1878 89.02h-5.8M1405.9 81.86h5.3M1878 81.86h-5.8M1405.9 75.81h5.3M1878 75.81h-5.8M1405.9 70.56h5.3M1878 70.56h-5.8M1405.9 65.94h5.3M1878 65.94h-5.8M1405.9 215.42h5.3M1878 215.42h-5.8M1405.9 199.5h5.3M1878 199.5h-5.8M1405.9 188.2h5.3M1878 188.2h-5.8M1405.9 179.44h5.3M1878 179.44h-5.8M1405.9 172.28h5.3M1878 172.28h-5.8M1405.9 166.23h5.3M1878 166.23h-5.8M1405.9 160.98h5.3M1878 160.98h-5.8M1405.9 156.36h5.3M1878 156.36h-5.8M1405.9 305.84h5.3M1878 305.84h-5.8M1405.9 289.92h5.3M1878 289.92h-5.8M1405.9 278.62h5.3M1878 278.62h-5.8M1405.9 269.86h5.3M1878 269.86h-5.8M1405.9 262.7h5.3M1878 262.7h-5.8M1405.9 256.65h5.3M1878 256.65h-5.8M1405.9 251.4h5.3M1878 251.4h-5.8M1405.9 246.78h5.3M1878 246.78h-5.8M1405.9 396.26h5.3M1878 396.26h-5.8M1405.9 380.34h5.3M1878 380.34h-5.8M1405.9 369.04h5.3M1878 369.04h-5.8M1405.9 360.28h5.3M1878 360.28h-5.8M1405.9 353.12h5.3M1878 353.12h-5.8M1405.9 347.07h5.3M1878 347.07h-5.8M1405.9 341.82h5.3M1878 341.82h-5.8M1405.9 337.2h5.3M1878 337.2h-5.8M1405.9 427.62h5.3M1878 427.62h-5.8" fill="none" stroke="#000" stroke-width="1.6"/>
<g clip-path="url(#c3)">
<path d="M1429.5 21.3L1453.1 103.4L1476.7 151.5L1500.3 197.2L1523.9 224.2L1547.5 245.9L1571.1 266.4L1594.7 281.5L1618.3 295.3L1641.9 308.5L1665.5 325.2L1689.1 330.7L1712.7 341.6L1736.3 351.5L1759.9 364.8L1783.5 369.5L1807.1 375.1L1830.7 383.1L1854.3 388.4L1877.9 394" fill="none" stroke="#1f77b4" stroke-width="3.12" stroke-linejoin="round" stroke-linecap="square"/>
<polygon points="1429.5,13.7 1421.2,29.4 1437.8,29.4" fill="#1f77b4" stroke="#1f77b4" stroke-width="2.08" stroke-linejoin="miter"/>
<polygon points="1453.1,95.8 1444.8,111.5 1461.4,111.5" fill="#1f77b4" stroke="#1f77b4" stroke-width="2.08" stroke-linejoin="miter"/>
<polygon points="1476.7,143.9 1468.4,159.6 1485,159.6" fill="#1f77b4" stroke="#1f77b4" stroke-width="2.08" stroke-linejoin="miter"/>
<polygon points="1500.3,189.6 1492,205.3 1508.6,205.3" fill="#1f77b4" stroke="#1f77b4" stroke-width="2.08" stroke-linejoin="miter"/>
<polygon points="1523.9,216.6 1515.6,232.3 1532.2,232.3" fill="#1f77b4" stroke="#1f77b4" stroke-width="2.08" stroke-linejoin="miter"/>
<polygon points="1547.5,238.3 1539.2,254 1555.8,254" fill="#1f77b4" stroke="#1f77b4" stroke-width="2.08" stroke-linejoin="miter"/>
<polygon points="1571.1,258.8 1562.8,274.5 1579.4,274.5" fill="#1f77b4" stroke="#1f77b4" stroke-width="2.08" stroke-linejoin="miter"/>
<polygon points="1594.7,273.9 1586.4,289.6 1603,289.6" fill="#1f77b4" stroke="#1f77b4" stroke-width="2.08" stroke-linejoin="miter"/>
<polygon points="1618.3,287.7 1610,303.4 1626.6,303.4" fill="#1f77b4" stroke="#1f77b4" stroke-width="2.08" stroke-linejoin="miter"/>
<polygon points="1641.9,300.9 1633.6,316.6 1650.2,316.6" fill="#1f77b4" stroke="#1f77b4" stroke-width="2.08" stroke-linejoin="miter"/>
<polygon points="1665.5,317.6 1657.2,333.3 1673.8,333.3" fill="#1f77b4" stroke="#1f77b4" stroke-width="2.08" stroke-linejoin="miter"/>
<polygon points="1689.1,323.1 1680.8,338.8 1697.4,338.8" fill="#1f77b4" stroke="#1f77b4" stroke-width="2.08" stroke-linejoin="miter"/>
<polygon points="1712.7,334 1704.4,349.7 1721,349.7" fill="#1f77b4" stroke="#1f77b4" stroke-width="2.08" stroke-linejoin="miter"/>
<polygon points="1736.3,343.9 1728,359.6 1744.6,359.6" fill="#1f77b4" stroke="#1f77b4" stroke-width="2.08" stroke-linejoin="miter"/>
<polygon points="1759.9,357.2 1751.6,372.9 1768.2,372.9" fill="#1f77b4" stroke="#1f77b4" stroke-width="2.08" stroke-linejoin="miter"/>
<polygon points="1783.5,361.9 1775.2,377.6 1791.8,377.6" fill="#1f77b4" stroke="#1f77b4" stroke-width="2.08" stroke-linejoin="miter"/>
<polygon points="1807.1,367.5 1798.8,383.2 1815.4,383.2" fill="#1f77b4" stroke="#1f77b4" stroke-width="2.08" stroke-linejoin="miter"/>
<polygon points="1830.7,375.5 1822.4,391.2 1839,391.2" fill="#1f77b4" stroke="#1f77b4" stroke-width="2.08" stroke-linejoin="miter"/>
<polygon points="1854.3,380.8 1846,396.5 1862.6,396.5" fill="#1f77b4" stroke="#1f77b4" stroke-width="2.08" stroke-linejoin="miter"/>
<polygon points="1877.9,386.4 1869.6,402.1 1886.2,402.1" fill="#1f77b4" stroke="#1f77b4" stroke-width="2.08" stroke-linejoin="miter"/>
<path d="M1429.5 118.4L1453.1 140.9L1476.7 172.3L1500.3 204.2L1523.9 228.6L1547.5 253.4L1571.1 269.3L1594.7 287.5L1618.3 300.6L1641.9 312.2L1665.5 323.7L1689.1 335L1712.7 344.9L1736.3 354.4L1759.9 362.9L1783.5 371.8L1807.1 377.4L1830.7 384.9L1854.3 392L1877.9 396.1" fill="none" stroke="#ff7f0e" stroke-width="3.12" stroke-linejoin="round" stroke-linecap="square"/>
<circle cx="1429.5" cy="118.4" r="8.3" fill="#ff7f0e" stroke="#ff7f0e" stroke-width="2.08" stroke-linejoin="miter"/>
<circle cx="1453.1" cy="140.9" r="8.3" fill="#ff7f0e" stroke="#ff7f0e" stroke-width="2.08" stroke-linejoin="miter"/>
<circle cx="1476.7" cy="172.3" r="8.3" fill="#ff7f0e" stroke="#ff7f0e" stroke-width="2.08" stroke-linejoin="miter"/>
<circle cx="1500.3" cy="204.2" r="8.3" fill="#ff7f0e" stroke="#ff7f0e" stroke-width="2.08" stroke-linejoin="miter"/>
<circle cx="1523.9" cy="228.6" r="8.3" fill="#ff7f0e" stroke="#ff7f0e" stroke-width="2.08" stroke-linejoin="miter"/>
<circle cx="1547.5" cy="253.4" r="8.3" fill="#ff7f0e" stroke="#ff7f0e" stroke-width="2.08" stroke-linejoin="miter"/>
<circle cx="1571.1" cy="269.3" r="8.3" fill="#ff7f0e" stroke="#ff7f0e" stroke-width="2.08" stroke-linejoin="miter"/>
<circle cx="1594.7" cy="287.5" r="8.3" fill="#ff7f0e" stroke="#ff7f0e" stroke-width="2.08" stroke-linejoin="miter"/>
<circle cx="1618.3" cy="300.6" r="8.3" fill="#ff7f0e" stroke="#ff7f0e" stroke-width="2.08" stroke-linejoin="miter"/>
<circle cx="1641.9" cy="312.2" r="8.3" fill="#ff7f0e" stroke="#ff7f0e" stroke-width="2.08" stroke-linejoin="miter"/>
<circle cx="1665.5" cy="323.7" r="8.3" fill="#ff7f0e" stroke="#ff7f0e" stroke-width="2.08" stroke-linejoin="miter"/>
<circle cx="1689.1" cy="335" r="8.3" fill="#ff7f0e" stroke="#ff7f0e" stroke-width="2.08" stroke-linejoin="miter"/>
<circle cx="1712.7" cy="344.9" r="8.3" fill="#ff7f0e" stroke="#ff7f0e" stroke-width="2.08" stroke-linejoin="miter"/>
<circle cx="1736.3" cy="354.4" r="8.3" fill="#ff7f0e" stroke="#ff7f0e" stroke-width="2.08" stroke-linejoin="miter"/>
<circle cx="1759.9" cy="362.9" r="8.3" fill="#ff7f0e" stroke="#ff7f0e" stroke-width="2.08" stroke-linejoin="miter"/>
<circle cx="1783.5" cy="371.8" r="8.3" fill="#ff7f0e" stroke="#ff7f0e" stroke-width="2.08" stroke-linejoin="miter"/>
<circle cx="1807.1" cy="377.4" r="8.3" fill="#ff7f0e" stroke="#ff7f0e" stroke-width="2.08" stroke-linejoin="miter"/>
<circle cx="1830.7" cy="384.9" r="8.3" fill="#ff7f0e" stroke="#ff7f0e" stroke-width="2.08" stroke-linejoin="miter"/>
<circle cx="1854.3" cy="392" r="8.3" fill="#ff7f0e" stroke="#ff7f0e" stroke-width="2.08" stroke-linejoin="miter"/>
<circle cx="1877.9" cy="396.1" r="8.3" fill="#ff7f0e" stroke="#ff7f0e" stroke-width="2.08" stroke-linejoin="miter"/>
<path d="M1453.1 195.5L1476.7 200.5L1500.3 221.5L1523.9 243.3L1547.5 262.4L1571.1 279.9L1594.7 294.4L1618.3 306.1L1641.9 321L1665.5 331.3L1689.1 341.4L1712.7 351L1736.3 359.8L1759.9 365.9L1783.5 373.8L1807.1 381.2L1830.7 386.9L1854.3 393.1L1877.9 399.5" fill="none" stroke="#2ca02c" stroke-width="3.12" stroke-linejoin="round" stroke-linecap="square"/>
<polygon points="1450.33,187.2 1455.87,187.2 1455.87,192.73 1461.4,192.73 1461.4,198.27 1455.87,198.27 1455.87,203.8 1450.33,203.8 1450.33,198.27 1444.8,198.27 1444.8,192.73 1450.33,192.73" fill="#2ca02c" stroke="#2ca02c" stroke-width="2.08" stroke-linejoin="miter"/>
<polygon points="1473.93,192.2 1479.47,192.2 1479.47,197.73 1485,197.73 1485,203.27 1479.47,203.27 1479.47,208.8 1473.93,208.8 1473.93,203.27 1468.4,203.27 1468.4,197.73 1473.93,197.73" fill="#2ca02c" stroke="#2ca02c" stroke-width="2.08" stroke-linejoin="miter"/>
<polygon points="1497.53,213.2 1503.07,213.2 1503.07,218.73 1508.6,218.73 1508.6,224.27 1503.07,224.27 1503.07,229.8 1497.53,229.8 1497.53,224.27 1492,224.27 1492,218.73 1497.53,218.73" fill="#2ca02c" stroke="#2ca02c" stroke-width="2.08" stroke-linejoin="miter"/>
<polygon points="1521.13,235 1526.67,235 1526.67,240.53 1532.2,240.53 1532.2,246.07 1526.67,246.07 1526.67,251.6 1521.13,251.6 1521.13,246.07 1515.6,246.07 1515.6,240.53 1521.13,240.53" fill="#2ca02c" stroke="#2ca02c" stroke-width="2.08" stroke-linejoin="miter"/>
<polygon points="1544.73,254.1 1550.27,254.1 1550.27,259.63 1555.8,259.63 1555.8,265.17 1550.27,265.17 1550.27,270.7 1544.73,270.7 1544.73,265.17 1539.2,265.17 1539.2,259.63 1544.73,259.63" fill="#2ca02c" stroke="#2ca02c" stroke-width="2.08" stroke-linejoin="miter"/>
<polygon points="1568.33,271.6 1573.87,271.6 1573.87,277.13 1579.4,277.13 1579.4,282.67 1573.87,282.67 1573.87,288.2 1568.33,288.2 1568.33,282.67 1562.8,282.67 1562.8,277.13 1568.33,277.13" fill="#2ca02c" stroke="#2ca02c" stroke-width="2.08" stroke-linejoin="miter"/>
<polygon points="1591.93,286.1 1597.47,286.1 1597.47,291.63 1603,291.63 1603,297.17 1597.47,297.17 1597.47,302.7 1591.93,302.7 1591.93,297.17 1586.4,297.17 1586.4,291.63 1591.93,291.63" fill="#2ca02c" stroke="#2ca02c" stroke-width="2.08" stroke-linejoin="miter"/>
<polygon points="1615.53,297.8 1621.07,297.8 1621.07,303.33 1626.6,303.33 1626.6,308.87 1621.07,308.87 1621.07,314.4 1615.53,314.4 1615.53,308.87 1610,308.87 1610,303.33 1615.53,303.33" fill="#2ca02c" stroke="#2ca02c" stroke-width="2.08" stroke-linejoin="miter"/>
<polygon points="1639.13,312.7 1644.67,312.7 1644.67,318.23 1650.2,318.23 1650.2,323.77 1644.67,323.77 1644.67,329.3 1639.13,329.3 1639.13,323.77 1633.6,323.77 1633.6,318.23 1639.13,318.23" fill="#2ca02c" stroke="#2ca02c" stroke-width="2.08" stroke-linejoin="miter"/>
<polygon points="1662.73,323 1668.27,323 1668.27,328.53 1673.8,328.53 1673.8,334.07 1668.27,334.07 1668.27,339.6 1662.73,339.6 1662.73,334.07 1657.2,334.07 1657.2,328.53 1662.73,328.53" fill="#2ca02c" stroke="#2ca02c" stroke-width="2.08" stroke-linejoin="miter"/>
<polygon points="1686.33,333.1 1691.87,333.1 1691.87,338.63 1697.4,338.63 1697.4,344.17 1691.87,344.17 1691.87,349.7 1686.33,349.7 1686.33,344.17 1680.8,344.17 1680.8,338.63 1686.33,338.63" fill="#2ca02c" stroke="#2ca02c" stroke-width="2.08" stroke-linejoin="miter"/>
<polygon points="1709.93,342.7 1715.47,342.7 1715.47,348.23 1721,348.23 1721,353.77 1715.47,353.77 1715.47,359.3 1709.93,359.3 1709.93,353.77 1704.4,353.77 1704.4,348.23 1709.93,348.23" fill="#2ca02c" stroke="#2ca02c" stroke-width="2.08" stroke-linejoin="miter"/>
<polygon points="1733.53,351.5 1739.07,351.5 1739.07,357.03 1744.6,357.03 1744.6,362.57 1739.07,362.57 1739.07,368.1 1733.53,368.1 1733.53,362.57 1728,362.57 1728,357.03 1733.53,357.03" fill="#2ca02c" stroke="#2ca02c" stroke-width="2.08" stroke-linejoin="miter"/>
<polygon points="1757.13,357.6 1762.67,357.6 1762.67,363.13 1768.2,363.13 1768.2,368.67 1762.67,368.67 1762.67,374.2 1757.13,374.2 1757.13,368.67 1751.6,368.67 1751.6,363.13 1757.13,363.13" fill="#2ca02c" stroke="#2ca02c" stroke-width="2.08" stroke-linejoin="miter"/>
<polygon points="1780.73,365.5 1786.27,365.5 1786.27,371.03 1791.8,371.03 1791.8,376.57 1786.27,376.57 1786.27,382.1 1780.73,382.1 1780.73,376.57 1775.2,376.57 1775.2,371.03 1780.73,371.03" fill="#2ca02c" stroke="#2ca02c" stroke-width="2.08" stroke-linejoin="miter"/>
<polygon points="1804.33,372.9 1809.87,372.9 1809.87,378.43 1815.4,378.43 1815.4,383.97 1809.87,383.97 1809.87,389.5 1804.33,389.5 1804.33,383.97 1798.8,383.97 1798.8,378.43 1804.33,378.43" fill="#2ca02c" stroke="#2ca02c" stroke-width="2.08" stroke-linejoin="miter"/>
<polygon points="1827.93,378.6 1833.47,378.6 1833.47,384.13 1839,384.13 1839,389.67 1833.47,389.67 1833.47,395.2 1827.93,395.2 1827.93,389.67 1822.4,389.67 1822.4,384.13 1827.93,384.13" fill="#2ca02c" stroke="#2ca02c" stroke-width="2.08" stroke-linejoin="miter"/>
<polygon points="1851.53,384.8 1857.07,384.8 1857.07,390.33 1862.6,390.33 1862.6,395.87 1857.07,395.87 1857.07,401.4 1851.53,401.4 1851.53,395.87 1846,395.87 1846,390.33 1851.53,390.33" fill="#2ca02c" stroke="#2ca02c" stroke-width="2.08" stroke-linejoin="miter"/>
<polygon points="1875.13,391.2 1880.67,391.2 1880.67,396.73 1886.2,396.73 1886.2,402.27 1880.67,402.27 1880.67,407.8 1875.13,407.8 1875.13,402.27 1869.6,402.27 1869.6,396.73 1875.13,396.73" fill="#2ca02c" stroke="#2ca02c" stroke-width="2.08" stroke-linejoin="miter"/>
<path d="M1453.1 278.9L1476.7 248L1500.3 256.7L1523.9 266L1547.5 282.1L1571.1 291.3L1594.7 305.5L1618.3 319L1641.9 328.8L1665.5 339.9L1689.1 348.9L1712.7 356.5L1736.3 365.9L1759.9 372.8L1783.5 378.4L1807.1 386L1830.7 391.8L1854.3 397.7L1877.9 402.9" fill="none" stroke="#d62728" stroke-width="3.12" stroke-linejoin="round" stroke-linecap="square"/>
<rect x="1444.8" y="270.6" width="16.6" height="16.6" fill="#d62728" stroke="#d62728" stroke-width="2.08" stroke-linejoin="miter"/>
<rect x="1468.4" y="239.7" width="16.6" height="16.6" fill="#d62728" stroke="#d62728" stroke-width="2.08" stroke-linejoin="miter"/>
<rect x="1492" y="248.4" width="16.6" height="16.6" fill="#d62728" stroke="#d62728" stroke-width="2.08" stroke-linejoin="miter"/>
<rect x="1515.6" y="257.7" width="16.6" height="16.6" fill="#d62728" stroke="#d62728" stroke-width="2.08" stroke-linejoin="miter"/>
<rect x="1539.2" y="273.8" width="16.6" height="16.6" fill="#d62728" stroke="#d62728" stroke-width="2.08" stroke-linejoin="miter"/>
<rect x="1562.8" y="283" width="16.6" height="16.6" fill="#d62728" stroke="#d62728" stroke-width="2.08" stroke-linejoin="miter"/>
<rect x="1586.4" y="297.2" width="16.6" height="16.6" fill="#d62728" stroke="#d62728" stroke-width="2.08" stroke-linejoin="miter"/>
<rect x="1610" y="310.7" width="16.6" height="16.6" fill="#d62728" stroke="#d62728" stroke-width="2.08" stroke-linejoin="miter"/>
<rect x="1633.6" y="320.5" width="16.6" height="16.6" fill="#d62728" stroke="#d62728" stroke-width="2.08" stroke-linejoin="miter"/>
<rect x="1657.2" y="331.6" width="16.6" height="16.6" fill="#d62728" stroke="#d62728" stroke-width="2.08" stroke-linejoin="miter"/>
<rect x="1680.8" y="340.6" width="16.6" height="16.6" fill="#d62728" stroke="#d62728" stroke-width="2.08" stroke-linejoin="miter"/>
<rect x="1704.4" y="348.2" width="16.6" height="16.6" fill="#d62728" stroke="#d62728" stroke-width="2.08" stroke-linejoin="miter"/>
<rect x="1728" y="357.6" width="16.6" height="16.6" fill="#d62728" stroke="#d62728" stroke-width="2.08" stroke-linejoin="miter"/>
<rect x="1751.6" y="364.5" width="16.6" height="16.6" fill="#d62728" stroke="#d62728" stroke-width="2.08" stroke-linejoin="miter"/>
<rect x="1775.2" y="370.1" width="16.6" height="16.6" fill="#d62728" stroke="#d62728" stroke-width="2.08" stroke-linejoin="miter"/>
<rect x="1798.8" y="377.7" width="16.6" height="16.6" fill="#d62728" stroke="#d62728" stroke-width="2.08" stroke-linejoin="miter"/>
<rect x="1822.4" y="383.5" width="16.6" height="16.6" fill="#d62728" stroke="#d62728" stroke-width="2.08" stroke-linejoin="miter"/>
<rect x="1846" y="389.4" width="16.6" height="16.6" fill="#d62728" stroke="#d62728" stroke-width="2.08" stroke-linejoin="miter"/>
<rect x="1869.6" y="394.6" width="16.6" height="16.6" fill="#d62728" stroke="#d62728" stroke-width="2.08" stroke-linejoin="miter"/>
<path d="M1476.7 317.8L1500.3 296.5L1523.9 301.3L1547.5 304.5L1571.1 315.3L1594.7 325L1618.3 331.9L1641.9 343.3L1665.5 351.6L1689.1 359.7L1712.7 367.9L1736.3 375L1759.9 380L1783.5 387L1807.1 392L1830.7 398L1854.3 403L1877.9 407" fill="none" stroke="#9467bd" stroke-width="3.12" stroke-linejoin="round" stroke-linecap="square"/>
<polygon points="1476.7,309.5 1478.56,315.24 1484.59,315.24 1479.72,318.78 1481.58,324.51 1476.7,320.97 1471.82,324.51 1473.68,318.78 1468.81,315.24 1474.84,315.24" fill="#9467bd" stroke="#9467bd" stroke-width="2.08" stroke-linejoin="bevel"/>
<polygon points="1500.3,288.2 1502.16,293.94 1508.19,293.94 1503.32,297.48 1505.18,303.21 1500.3,299.67 1495.42,303.21 1497.28,297.48 1492.41,293.94 1498.44,293.94" fill="#9467bd" stroke="#9467bd" stroke-width="2.08" stroke-linejoin="bevel"/>
<polygon points="1523.9,293 1525.76,298.74 1531.79,298.74 1526.92,302.28 1528.78,308.01 1523.9,304.47 1519.02,308.01 1520.88,302.28 1516.01,298.74 1522.04,298.74" fill="#9467bd" stroke="#9467bd" stroke-width="2.08" stroke-linejoin="bevel"/>
<polygon points="1547.5,296.2 1549.36,301.94 1555.39,301.94 1550.52,305.48 1552.38,311.21 1547.5,307.67 1542.62,311.21 1544.48,305.48 1539.61,301.94 1545.64,301.94" fill="#9467bd" stroke="#9467bd" stroke-width="2.08" stroke-linejoin="bevel"/>
<polygon points="1571.1,307 1572.96,312.74 1578.99,312.74 1574.12,316.28 1575.98,322.01 1571.1,318.47 1566.22,322.01 1568.08,316.28 1563.21,312.74 1569.24,312.74" fill="#9467bd" stroke="#9467bd" stroke-width="2.08" stroke-linejoin="bevel"/>
<polygon points="1594.7,316.7 1596.56,322.44 1602.59,322.44 1597.72,325.98 1599.58,331.71 1594.7,328.17 1589.82,331.71 1591.68,325.98 1586.81,322.44 1592.84,322.44" fill="#9467bd" stroke="#9467bd" stroke-width="2.08" stroke-linejoin="bevel"/>
<polygon points="1618.3,323.6 1620.16,329.34 1626.19,329.34 1621.32,332.88 1623.18,338.61 1618.3,335.07 1613.42,338.61 1615.28,332.88 1610.41,329.34 1616.44,329.34" fill="#9467bd" stroke="#9467bd" stroke-width="2.08" stroke-linejoin="bevel"/>
<polygon points="1641.9,335 1643.76,340.74 1649.79,340.74 1644.92,344.28 1646.78,350.01 1641.9,346.47 1637.02,350.01 1638.88,344.28 1634.01,340.74 1640.04,340.74" fill="#9467bd" stroke="#9467bd" stroke-width="2.08" stroke-linejoin="bevel"/>
<polygon points="1665.5,343.3 1667.36,349.04 1673.39,349.04 1668.52,352.58 1670.38,358.31 1665.5,354.77 1660.62,358.31 1662.48,352.58 1657.61,349.04 1663.64,349.04" fill="#9467bd" stroke="#9467bd" stroke-width="2.08" stroke-linejoin="bevel"/>
<polygon points="1689.1,351.4 1690.96,357.14 1696.99,357.14 1692.12,360.68 1693.98,366.41 1689.1,362.87 1684.22,366.41 1686.08,360.68 1681.21,357.14 1687.24,357.14" fill="#9467bd" stroke="#9467bd" stroke-width="2.08" stroke-linejoin="bevel"/>
<polygon points="1712.7,359.6 1714.56,365.34 1720.59,365.34 1715.72,368.88 1717.58,374.61 1712.7,371.07 1707.82,374.61 1709.68,368.88 1704.81,365.34 1710.84,365.34" fill="#9467bd" stroke="#9467bd" stroke-width="2.08" stroke-linejoin="bevel"/>
<polygon points="1736.3,366.7 1738.16,372.44 1744.19,372.44 1739.32,375.98 1741.18,381.71 1736.3,378.17 1731.42,381.71 1733.28,375.98 1728.41,372.44 1734.44,372.44" fill="#9467bd" stroke="#9467bd" stroke-width="2.08" stroke-linejoin="bevel"/>
<polygon points="1759.9,371.7 1761.76,377.44 1767.79,377.44 1762.92,380.98 1764.78,386.71 1759.9,383.17 1755.02,386.71 1756.88,380.98 1752.01,377.44 1758.04,377.44" fill="#9467bd" stroke="#9467bd" stroke-width="2.08" stroke-linejoin="bevel"/>
<polygon points="1783.5,378.7 1785.36,384.44 1791.39,384.44 1786.52,387.98 1788.38,393.71 1783.5,390.17 1778.62,393.71 1780.48,387.98 1775.61,384.44 1781.64,384.44" fill="#9467bd" stroke="#9467bd" stroke-width="2.08" stroke-linejoin="bevel"/>
<polygon points="1807.1,383.7 1808.96,389.44 1814.99,389.44 1810.12,392.98 1811.98,398.71 1807.1,395.17 1802.22,398.71 1804.08,392.98 1799.21,389.44 1805.24,389.44" fill="#9467bd" stroke="#9467bd" stroke-width="2.08" stroke-linejoin="bevel"/>
<polygon points="1830.7,389.7 1832.56,395.44 1838.59,395.44 1833.72,398.98 1835.58,404.71 1830.7,401.17 1825.82,404.71 1827.68,398.98 1822.81,395.44 1828.84,395.44" fill="#9467bd" stroke="#9467bd" stroke-width="2.08" stroke-linejoin="bevel"/>
<polygon points="1854.3,394.7 1856.16,400.44 1862.19,400.44 1857.32,403.98 1859.18,409.71 1854.3,406.17 1849.42,409.71 1851.28,403.98 1846.41,400.44 1852.44,400.44" fill="#9467bd" stroke="#9467bd" stroke-width="2.08" stroke-linejoin="bevel"/>
<polygon points="1877.9,398.7 1879.76,404.44 1885.79,404.44 1880.92,407.98 1882.78,413.71 1877.9,410.17 1873.02,413.71 1874.88,407.98 1870.01,404.44 1876.04,404.44" fill="#9467bd" stroke="#9467bd" stroke-width="2.08" stroke-linejoin="bevel"/>
<path d="M1476.7 356.5L1500.3 321.2L1523.9 313.5L1547.5 321.7L1571.1 325.4L1594.7 332.9L1618.3 341.3L1641.9 350.3L1665.5 357.6L1689.1 364.3L1712.7 371.8L1736.3 379L1759.9 384.6L1783.5 391.5L1807.1 396.6L1830.7 402.4L1854.3 407.3L1877.9 411.5" fill="none" stroke="#8c564b" stroke-width="3.12" stroke-linejoin="round" stroke-linecap="square"/>
<polygon points="1476.7,344.76 1483.74,356.5 1476.7,368.24 1469.66,356.5" fill="#8c564b" stroke="#8c564b" stroke-width="2.08" stroke-linejoin="miter"/>
<polygon points="1500.3,309.46 1507.34,321.2 1500.3,332.94 1493.26,321.2" fill="#8c564b" stroke="#8c564b" stroke-width="2.08" stroke-linejoin="miter"/>
<polygon points="1523.9,301.76 1530.94,313.5 1523.9,325.24 1516.86,313.5" fill="#8c564b" stroke="#8c564b" stroke-width="2.08" stroke-linejoin="miter"/>
<polygon points="1547.5,309.96 1554.54,321.7 1547.5,333.44 1540.46,321.7" fill="#8c564b" stroke="#8c564b" stroke-width="2.08" stroke-linejoin="miter"/>
<polygon points="1571.1,313.66 1578.14,325.4 1571.1,337.14 1564.06,325.4" fill="#8c564b" stroke="#8c564b" stroke-width="2.08" stroke-linejoin="miter"/>
<polygon points="1594.7,321.16 1601.74,332.9 1594.7,344.64 1587.66,332.9" fill="#8c564b" stroke="#8c564b" stroke-width="2.08" stroke-linejoin="miter"/>
<polygon points="1618.3,329.56 1625.34,341.3 1618.3,353.04 1611.26,341.3" fill="#8c564b" stroke="#8c564b" stroke-width="2.08" stroke-linejoin="miter"/>
<polygon points="1641.9,338.56 1648.94,350.3 1641.9,362.04 1634.86,350.3" fill="#8c564b" stroke="#8c564b" stroke-width="2.08" stroke-linejoin="miter"/>
<polygon points="1665.5,345.86 1672.54,357.6 1665.5,369.34 1658.46,357.6" fill="#8c564b" stroke="#8c564b" stroke-width="2.08" stroke-linejoin="miter"/>
<polygon points="1689.1,352.56 1696.14,364.3 1689.1,376.04 1682.06,364.3" fill="#8c564b" stroke="#8c564b" stroke-width="2.08" stroke-linejoin="miter"/>
<polygon points="1712.7,360.06 1719.74,371.8 1712.7,383.54 1705.66,371.8" fill="#8c564b" stroke="#8c564b" stroke-width="2.08" stroke-linejoin="miter"/>
<polygon points="1736.3,367.26 1743.34,379 1736.3,390.74 1729.26,379" fill="#8c564b" stroke="#8c564b" stroke-width="2.08" stroke-linejoin="miter"/>
<polygon points="1759.9,372.86 1766.94,384.6 1759.9,396.34 1752.86,384.6" fill="#8c564b" stroke="#8c564b" stroke-width="2.08" stroke-linejoin="miter"/>
<polygon points="1783.5,379.76 1790.54,391.5 1783.5,403.24 1776.46,391.5" fill="#8c564b" stroke="#8c564b" stroke-width="2.08" stroke-linejoin="miter"/>
<polygon points="1807.1,384.86 1814.14,396.6 1807.1,408.34 1800.06,396.6" fill="#8c564b" stroke="#8c564b" stroke-width="2.08" stroke-linejoin="miter"/>
<polygon points="1830.7,390.66 1837.74,402.4 1830.7,414.14 1823.66,402.4" fill="#8c564b" stroke="#8c564b" stroke-width="2.08" stroke-linejoin="miter"/>
<polygon points="1854.3,395.56 1861.34,407.3 1854.3,419.04 1847.26,407.3" fill="#8c564b" stroke="#8c564b" stroke-width="2.08" stroke-linejoin="miter"/>
<polygon points="1877.9,399.76 1884.94,411.5 1877.9,423.24 1870.86,411.5" fill="#8c564b" stroke="#8c564b" stroke-width="2.08" stroke-linejoin="miter"/>
</g>
<rect x="1405.9" y="1.9" width="472.1" height="430" fill="none" stroke="#000" stroke-width="4"/>
<g stroke="#fff" stroke-width="0.16">
<text><tspan x="89.95" y="464.7" font-size="33.1" textLength="15.3" lengthAdjust="spacingAndGlyphs">0</tspan></text>
<text><tspan x="160.92" y="464.7" font-size="33.1" textLength="61.2" lengthAdjust="spacingAndGlyphs">2000</tspan></text>
<text><tspan x="254.84" y="464.7" font-size="33.1" textLength="61.2" lengthAdjust="spacingAndGlyphs">4000</tspan></text>
<text><tspan x="348.76" y="464.7" font-size="33.1" textLength="61.2" lengthAdjust="spacingAndGlyphs">6000</tspan></text>
<text><tspan x="442.68" y="464.7" font-size="33.1" textLength="61.2" lengthAdjust="spacingAndGlyphs">8000</tspan></text>
<text><tspan x="528.95" y="464.7" font-size="33.1" textLength="76.5" lengthAdjust="spacingAndGlyphs">10000</tspan></text>
<text><tspan x="297.31" y="503.8" font-size="30.99" textLength="17.88" lengthAdjust="spacingAndGlyphs" font-style="italic">h</tspan> <tspan x="326.62" y="504.15" font-size="34.52" textLength="8.95" lengthAdjust="spacingAndGlyphs">(</tspan><tspan x="336.78" y="503.7" font-size="30.84" textLength="41.32" lengthAdjust="spacingAndGlyphs">km</tspan><tspan x="379.42" y="504.15" font-size="34.52" textLength="9.08" lengthAdjust="spacingAndGlyphs">)</tspan></text>
<text><tspan x="759.15" y="464.7" font-size="33.1" textLength="15.3" lengthAdjust="spacingAndGlyphs">0</tspan></text>
<text><tspan x="827.42" y="464.7" font-size="33.1" textLength="61.2" lengthAdjust="spacingAndGlyphs">2000</tspan></text>
<text><tspan x="918.65" y="464.7" font-size="33.1" textLength="61.2" lengthAdjust="spacingAndGlyphs">4000</tspan></text>
<text><tspan x="1009.87" y="464.7" font-size="33.1" textLength="61.2" lengthAdjust="spacingAndGlyphs">6000</tspan></text>
<text><tspan x="1101.1" y="464.7" font-size="33.1" textLength="61.2" lengthAdjust="spacingAndGlyphs">8000</tspan></text>
<text><tspan x="1184.67" y="464.7" font-size="33.1" textLength="76.5" lengthAdjust="spacingAndGlyphs">10000</tspan></text>
<text><tspan x="960.11" y="503.8" font-size="30.99" textLength="17.88" lengthAdjust="spacingAndGlyphs" font-style="italic">h</tspan> <tspan x="989.42" y="504.15" font-size="34.52" textLength="8.95" lengthAdjust="spacingAndGlyphs">(</tspan><tspan x="999.58" y="503.7" font-size="30.84" textLength="41.32" lengthAdjust="spacingAndGlyphs">km</tspan><tspan x="1042.22" y="504.15" font-size="34.52" textLength="9.08" lengthAdjust="spacingAndGlyphs">)</tspan></text>
<text><tspan x="1398.25" y="463.9" font-size="33.1" textLength="15.3" lengthAdjust="spacingAndGlyphs">0</tspan></text>
<text><tspan x="1469.7" y="463.9" font-size="33.1" textLength="61.2" lengthAdjust="spacingAndGlyphs">2000</tspan></text>
<text><tspan x="1564.1" y="463.9" font-size="33.1" textLength="61.2" lengthAdjust="spacingAndGlyphs">4000</tspan></text>
<text><tspan x="1658.5" y="463.9" font-size="33.1" textLength="61.2" lengthAdjust="spacingAndGlyphs">6000</tspan></text>
<text><tspan x="1752.9" y="463.9" font-size="33.1" textLength="61.2" lengthAdjust="spacingAndGlyphs">8000</tspan></text>
<text><tspan x="1839.65" y="463.9" font-size="33.1" textLength="76.5" lengthAdjust="spacingAndGlyphs">10000</tspan></text>
<text><tspan x="1595.86" y="503" font-size="30.99" textLength="17.88" lengthAdjust="spacingAndGlyphs" font-style="italic">h</tspan> <tspan x="1625.17" y="503.35" font-size="34.52" textLength="8.95" lengthAdjust="spacingAndGlyphs">(</tspan><tspan x="1635.33" y="502.9" font-size="30.84" textLength="41.32" lengthAdjust="spacingAndGlyphs">km</tspan><tspan x="1677.97" y="503.35" font-size="34.52" textLength="9.08" lengthAdjust="spacingAndGlyphs">)</tspan></text>
<text><tspan x="42.72" y="34" font-size="33.1" textLength="45.9" lengthAdjust="spacingAndGlyphs">400</tspan></text>
<text><tspan x="42.72" y="73.94" font-size="33.1" textLength="45.9" lengthAdjust="spacingAndGlyphs">300</tspan></text>
<text><tspan x="42.72" y="130.24" font-size="33.1" textLength="45.9" lengthAdjust="spacingAndGlyphs">200</tspan></text>
<text><tspan x="42.72" y="170.18" font-size="33.1" textLength="45.9" lengthAdjust="spacingAndGlyphs">150</tspan></text>
<text><tspan x="42.72" y="226.48" font-size="33.1" textLength="45.9" lengthAdjust="spacingAndGlyphs">100</tspan></text>
<text><tspan x="58.02" y="257.46" font-size="33.1" textLength="30.6" lengthAdjust="spacingAndGlyphs">80</tspan></text>
<text><tspan x="58.02" y="297.4" font-size="33.1" textLength="30.6" lengthAdjust="spacingAndGlyphs">60</tspan></text>
<text><tspan x="58.02" y="322.72" font-size="33.1" textLength="30.6" lengthAdjust="spacingAndGlyphs">50</tspan></text>
<text><tspan x="58.02" y="353.7" font-size="33.1" textLength="30.6" lengthAdjust="spacingAndGlyphs">40</tspan></text>
<text><tspan x="58.02" y="393.64" font-size="33.1" textLength="30.6" lengthAdjust="spacingAndGlyphs">30</tspan></text>
<text><tspan x="715.57" y="42.7" font-size="33.1" textLength="30.6" lengthAdjust="spacingAndGlyphs">10</tspan><tspan x="746.6" y="30.3" font-size="19.94" textLength="11.35" lengthAdjust="spacingAndGlyphs">2</tspan></text>
<text><tspan x="715.57" y="140.73" font-size="33.1" textLength="30.6" lengthAdjust="spacingAndGlyphs">10</tspan><tspan x="746.53" y="128.33" font-size="20" textLength="10.65" lengthAdjust="spacingAndGlyphs">1</tspan></text>
<text><tspan x="715.57" y="238.76" font-size="33.1" textLength="30.6" lengthAdjust="spacingAndGlyphs">10</tspan><tspan x="746.78" y="226.17" font-size="19.56" textLength="10.74" lengthAdjust="spacingAndGlyphs">0</tspan></text>
<text><tspan x="698.57" y="336.79" font-size="33.1" textLength="30.6" lengthAdjust="spacingAndGlyphs">10</tspan><tspan x="729.1" y="329.62" font-size="28.11" textLength="16.97" lengthAdjust="spacingAndGlyphs">−</tspan><tspan x="745.98" y="324.39" font-size="20" textLength="10.94" lengthAdjust="spacingAndGlyphs">1</tspan></text>
<text><tspan x="698.57" y="434.82" font-size="33.1" textLength="30.6" lengthAdjust="spacingAndGlyphs">10</tspan><tspan x="729.1" y="427.65" font-size="28.11" textLength="16.97" lengthAdjust="spacingAndGlyphs">−</tspan><tspan x="745.88" y="422.42" font-size="19.94" textLength="12.72" lengthAdjust="spacingAndGlyphs">2</tspan></text>
<text><tspan x="1354.77" y="73.4" font-size="33.1" textLength="30.6" lengthAdjust="spacingAndGlyphs">10</tspan><tspan x="1386" y="61" font-size="20.05" textLength="10.33" lengthAdjust="spacingAndGlyphs">4</tspan></text>
<text><tspan x="1354.77" y="163.82" font-size="33.1" textLength="30.6" lengthAdjust="spacingAndGlyphs">10</tspan><tspan x="1385.29" y="151.23" font-size="19.65" textLength="11.62" lengthAdjust="spacingAndGlyphs">3</tspan></text>
<text><tspan x="1354.77" y="254.24" font-size="33.1" textLength="30.6" lengthAdjust="spacingAndGlyphs">10</tspan><tspan x="1385.35" y="241.84" font-size="19.94" textLength="11.97" lengthAdjust="spacingAndGlyphs">2</tspan></text>
<text><tspan x="1354.77" y="344.66" font-size="33.1" textLength="30.6" lengthAdjust="spacingAndGlyphs">10</tspan><tspan x="1385.25" y="332.26" font-size="20" textLength="11.08" lengthAdjust="spacingAndGlyphs">1</tspan></text>
<text><tspan x="1354.77" y="435.08" font-size="33.1" textLength="30.6" lengthAdjust="spacingAndGlyphs">10</tspan><tspan x="1385.54" y="422.49" font-size="19.56" textLength="11.33" lengthAdjust="spacingAndGlyphs">0</tspan></text>
<text transform="translate(21.8 244.6) rotate(-90)"><tspan x="0.26" y="0" font-size="34.36" textLength="23.88" lengthAdjust="spacingAndGlyphs" font-style="italic">N</tspan><tspan x="22.55" y="3.82" font-size="21.52" textLength="31.79" lengthAdjust="spacingAndGlyphs">opt</tspan></text>
<text transform="translate(680.5 264.4) rotate(-90)"><tspan x="-1.85" y="0.08" font-size="34.56" textLength="22.14" lengthAdjust="spacingAndGlyphs" font-style="italic">C</tspan><tspan x="24.35" y="0.22" font-size="33.75" textLength="9.47" lengthAdjust="spacingAndGlyphs">(</tspan><tspan x="34.15" y="0" font-size="32.86" textLength="15.98" lengthAdjust="spacingAndGlyphs" font-style="italic">h</tspan><tspan x="53.8" y="0.25" font-size="35.43" textLength="5.88" lengthAdjust="spacingAndGlyphs">,</tspan> <tspan x="64.38" y="-0.04" font-size="32.81" textLength="15.25" lengthAdjust="spacingAndGlyphs" font-style="italic">d</tspan><tspan x="81.18" y="0.22" font-size="33.75" textLength="9.47" lengthAdjust="spacingAndGlyphs">)</tspan></text>
<text transform="translate(1337 322.4) rotate(-90)"><tspan x="-1.01" y="-0.11" font-size="31.3" textLength="64.22" lengthAdjust="spacingAndGlyphs">Rate</tspan> <tspan x="71.91" y="0.32" font-size="34.19" textLength="139.59" lengthAdjust="spacingAndGlyphs">(ebits/sec)</tspan></text>
</g>
<rect x="46" y="539.8" width="1872.2" height="53.1" fill="#fff" stroke="#000" stroke-width="4.2"/>
<path d="M56.4 563.4h66.2" stroke="#1f77b4" stroke-width="3.12" fill="none"/>
<polygon points="89.5,555.2 81.2,571.8 97.8,571.8" fill="#1f77b4" stroke="#1f77b4" stroke-width="2.08" stroke-linejoin="miter"/>
<g stroke="#fff" stroke-width="0.16"><text><tspan x="146.27" y="574.78" font-size="31.39" textLength="15.35" lengthAdjust="spacingAndGlyphs" font-style="italic">d</tspan> <tspan x="169.76" y="577.24" font-size="31.6" textLength="25.33" lengthAdjust="spacingAndGlyphs">=</tspan> <tspan x="202.9" y="575.3" font-size="33.1" textLength="45.9" lengthAdjust="spacingAndGlyphs">500</tspan> <tspan x="259.29" y="574.8" font-size="31.42" textLength="41.22" lengthAdjust="spacingAndGlyphs">km</tspan></text></g>
<path d="M361.9 563.4h66.2" stroke="#ff7f0e" stroke-width="3.12" fill="none"/>
<circle cx="395" cy="563.5" r="8.3" fill="#ff7f0e" stroke="#ff7f0e" stroke-width="2.08" stroke-linejoin="miter"/>
<g stroke="#fff" stroke-width="0.16"><text><tspan x="451.77" y="574.78" font-size="31.39" textLength="15.35" lengthAdjust="spacingAndGlyphs" font-style="italic">d</tspan> <tspan x="475.26" y="577.24" font-size="31.6" textLength="25.33" lengthAdjust="spacingAndGlyphs">=</tspan> <tspan x="508.4" y="575.3" font-size="33.1" textLength="61.2" lengthAdjust="spacingAndGlyphs">1500</tspan> <tspan x="580.39" y="574.8" font-size="31.42" textLength="41.22" lengthAdjust="spacingAndGlyphs">km</tspan></text></g>
<path d="M682.85 563.4h66.2" stroke="#2ca02c" stroke-width="3.12" fill="none"/>
<polygon points="713.18,555.2 718.72,555.2 718.72,560.73 724.25,560.73 724.25,566.27 718.72,566.27 718.72,571.8 713.18,571.8 713.18,566.27 707.65,566.27 707.65,560.73 713.18,560.73" fill="#2ca02c" stroke="#2ca02c" stroke-width="2.08" stroke-linejoin="miter"/>
<g stroke="#fff" stroke-width="0.16"><text><tspan x="772.72" y="574.78" font-size="31.39" textLength="15.35" lengthAdjust="spacingAndGlyphs" font-style="italic">d</tspan> <tspan x="796.21" y="577.24" font-size="31.6" textLength="25.33" lengthAdjust="spacingAndGlyphs">=</tspan> <tspan x="829.35" y="575.3" font-size="33.1" textLength="61.2" lengthAdjust="spacingAndGlyphs">2500</tspan> <tspan x="901.34" y="574.8" font-size="31.42" textLength="41.22" lengthAdjust="spacingAndGlyphs">km</tspan></text></g>
<path d="M1003.8 563.4h66.2" stroke="#d62728" stroke-width="3.12" fill="none"/>
<rect x="1028.6" y="555.2" width="16.6" height="16.6" fill="#d62728" stroke="#d62728" stroke-width="2.08" stroke-linejoin="miter"/>
<g stroke="#fff" stroke-width="0.16"><text><tspan x="1093.67" y="574.78" font-size="31.39" textLength="15.35" lengthAdjust="spacingAndGlyphs" font-style="italic">d</tspan> <tspan x="1117.16" y="577.24" font-size="31.6" textLength="25.33" lengthAdjust="spacingAndGlyphs">=</tspan> <tspan x="1150.3" y="575.3" font-size="33.1" textLength="61.2" lengthAdjust="spacingAndGlyphs">3500</tspan> <tspan x="1222.29" y="574.8" font-size="31.42" textLength="41.22" lengthAdjust="spacingAndGlyphs">km</tspan></text></g>
<path d="M1324.75 563.4h66.2" stroke="#9467bd" stroke-width="3.12" fill="none"/>
<polygon points="1357.85,555.2 1359.71,560.94 1365.74,560.94 1360.87,564.48 1362.73,570.21 1357.85,566.67 1352.97,570.21 1354.83,564.48 1349.96,560.94 1355.99,560.94" fill="#9467bd" stroke="#9467bd" stroke-width="2.08" stroke-linejoin="bevel"/>
<g stroke="#fff" stroke-width="0.16"><text><tspan x="1414.62" y="574.78" font-size="31.39" textLength="15.35" lengthAdjust="spacingAndGlyphs" font-style="italic">d</tspan> <tspan x="1438.11" y="577.24" font-size="31.6" textLength="25.33" lengthAdjust="spacingAndGlyphs">=</tspan> <tspan x="1471.25" y="575.3" font-size="33.1" textLength="61.2" lengthAdjust="spacingAndGlyphs">4500</tspan> <tspan x="1543.24" y="574.8" font-size="31.42" textLength="41.22" lengthAdjust="spacingAndGlyphs">km</tspan></text></g>
<path d="M1645.7 563.4h66.2" stroke="#8c564b" stroke-width="3.12" fill="none"/>
<polygon points="1678.8,551.76 1685.84,563.5 1678.8,575.24 1671.76,563.5" fill="#8c564b" stroke="#8c564b" stroke-width="2.08" stroke-linejoin="miter"/>
<g stroke="#fff" stroke-width="0.16"><text><tspan x="1735.57" y="574.78" font-size="31.39" textLength="15.35" lengthAdjust="spacingAndGlyphs" font-style="italic">d</tspan> <tspan x="1759.06" y="577.24" font-size="31.6" textLength="25.33" lengthAdjust="spacingAndGlyphs">=</tspan> <tspan x="1792.2" y="575.3" font-size="33.1" textLength="61.2" lengthAdjust="spacingAndGlyphs">5000</tspan> <tspan x="1864.19" y="574.8" font-size="31.42" textLength="41.22" lengthAdjust="spacingAndGlyphs">km</tspan></text></g>
</svg>
</body></html>
